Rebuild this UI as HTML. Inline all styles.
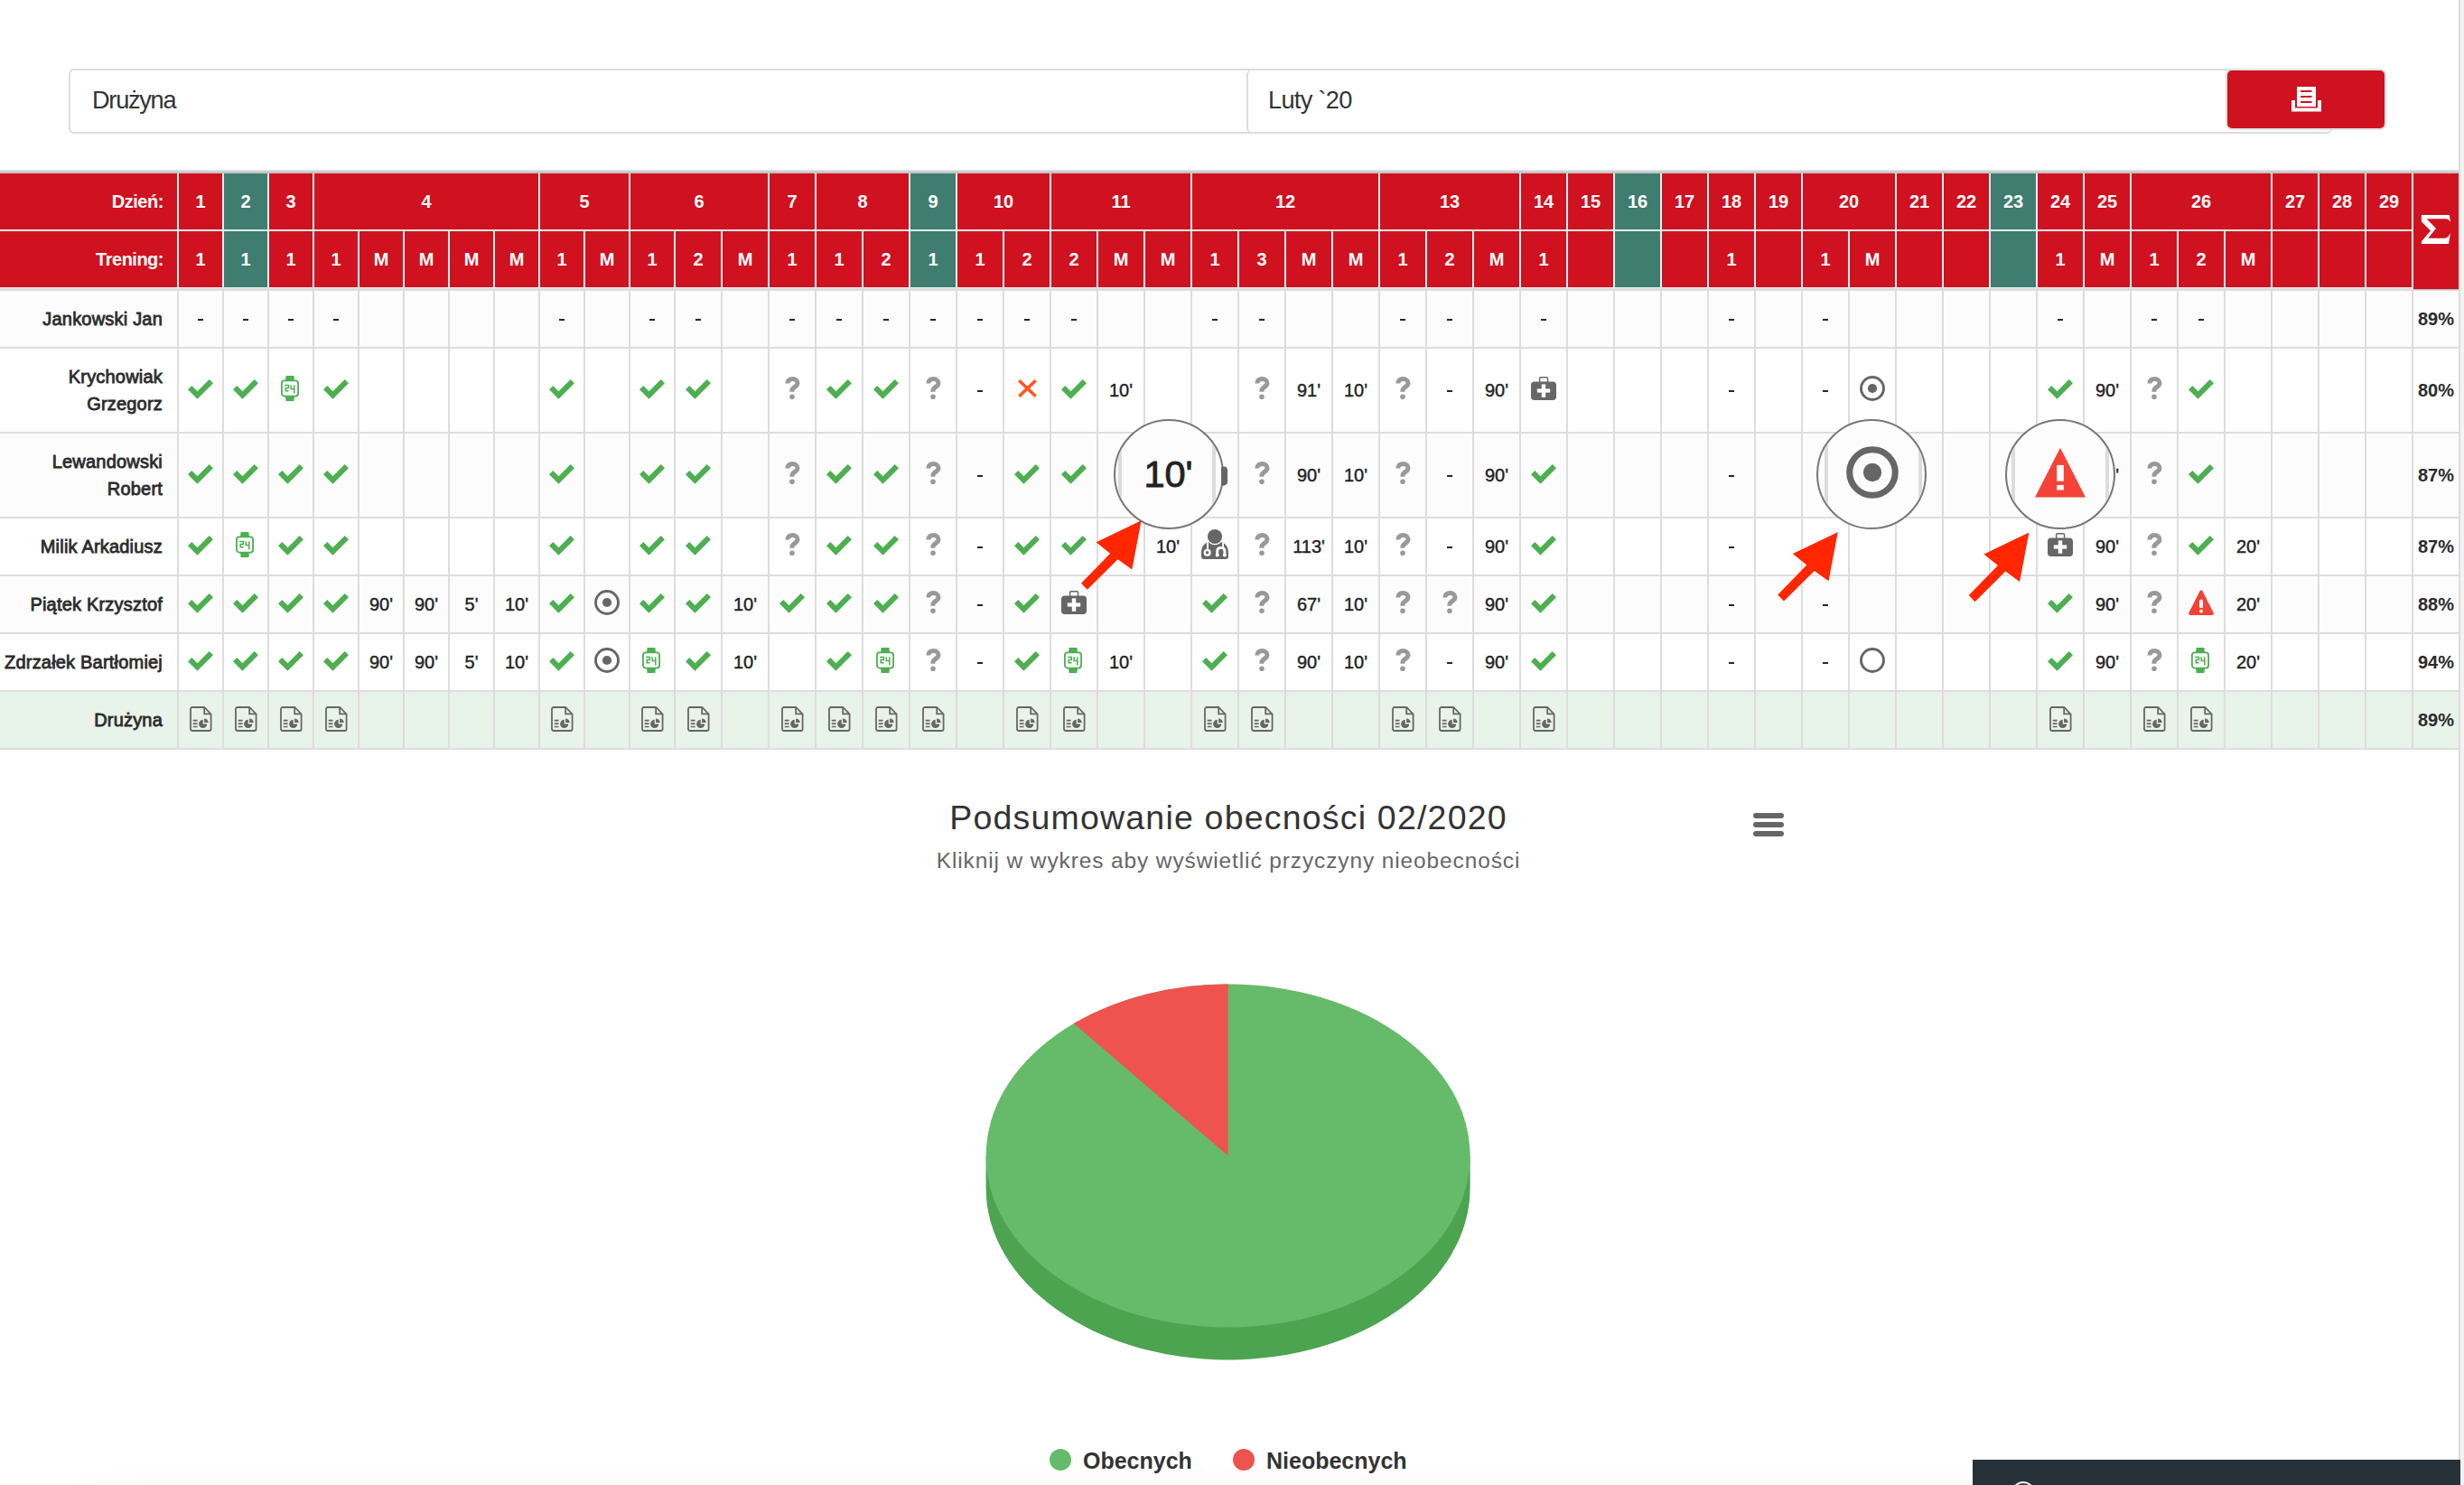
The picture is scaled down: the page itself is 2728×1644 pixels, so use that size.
<!DOCTYPE html><html><head><meta charset="utf-8"><title>Obecności</title><style>html,body{margin:0;padding:0;}body{width:2728px;height:1644px;position:relative;overflow:hidden;background:#fff;font-family:"Liberation Sans",sans-serif;}div,svg{box-sizing:border-box;}</style></head><body>
<div style="position:absolute;left:2722px;top:0px;width:2px;height:1644px;background:#dddddd;"></div>
<div style="position:absolute;left:2724px;top:0px;width:4px;height:1644px;background:#f3f3f3;"></div>
<div style="position:absolute;left:76px;top:76px;width:2506px;height:72px;border:2px solid #dcdcdc;border-radius:6px;background:#fff"></div>
<div style="position:absolute;left:1380px;top:77px;width:1200px;height:70px;border-left:2px solid #dcdcdc;border-radius:6px 0 0 6px"></div>
<div style="position:absolute;left:102px;top:93px;font-size:27.2px;line-height:36px;letter-spacing:-1.28px;color:#333;">Drużyna</div>
<div style="position:absolute;left:1404px;top:93px;font-size:27.2px;line-height:36px;letter-spacing:-0.7px;color:#333;">Luty `20</div>
<div style="position:absolute;left:2464px;top:76px;width:178px;height:68px;border:2px solid #dde3e3;border-radius:7px;background:#d0111f"></div>
<svg style="position:absolute;left:2536px;top:95px" width="36" height="30" viewBox="0 0 36 30"><rect x="7" y="1" width="21" height="22" fill="#fff"/><rect x="11" y="5" width="12.5" height="2" fill="#d0111f"/><rect x="11" y="11" width="12.5" height="2" fill="#d0111f"/><rect x="11" y="17" width="12.5" height="2" fill="#d0111f"/><path d="M1,16 H5 V24.6 H30 V16 H34 V28.6 H1 Z" fill="#fff"/></svg>
<div style="position:absolute;left:0px;top:188px;width:2722px;height:2px;background:#dcdcdc;"></div>
<div style="position:absolute;left:0px;top:190px;width:2722px;height:1px;background:#bdbdbd;"></div>
<div style="position:absolute;left:0px;top:191px;width:2722px;height:1px;background:#c3cccb;"></div>
<div style="position:absolute;left:0px;top:192px;width:2722px;height:126px;background:#d0111f;"></div>
<div style="position:absolute;left:0px;top:318px;width:2722px;height:1px;background:#dff3f1;"></div>
<div style="position:absolute;left:0px;top:319px;width:2722px;height:3px;background:#dddddd;"></div>
<div style="position:absolute;left:1788px;top:192px;width:50px;height:126px;background:#3f7d71;"></div>
<div style="position:absolute;left:1008px;top:192px;width:50px;height:126px;background:#3f7d71;"></div>
<div style="position:absolute;left:248px;top:192px;width:48px;height:126px;background:#3f7d71;"></div>
<div style="position:absolute;left:2204px;top:192px;width:50px;height:126px;background:#3f7d71;"></div>
<div style="position:absolute;left:0px;top:254px;width:2671px;height:2px;background:#dff3f1;"></div>
<div style="position:absolute;left:196px;top:192px;width:2px;height:126px;background:#dff3f1;"></div>
<div style="position:absolute;left:246px;top:192px;width:2px;height:126px;background:#dff3f1;"></div>
<div style="position:absolute;left:296px;top:192px;width:2px;height:126px;background:#dff3f1;"></div>
<div style="position:absolute;left:346px;top:192px;width:2px;height:126px;background:#dff3f1;"></div>
<div style="position:absolute;left:396px;top:256px;width:2px;height:62px;background:#dff3f1;"></div>
<div style="position:absolute;left:446px;top:256px;width:2px;height:62px;background:#dff3f1;"></div>
<div style="position:absolute;left:496px;top:256px;width:2px;height:62px;background:#dff3f1;"></div>
<div style="position:absolute;left:546px;top:256px;width:2px;height:62px;background:#dff3f1;"></div>
<div style="position:absolute;left:596px;top:192px;width:2px;height:126px;background:#dff3f1;"></div>
<div style="position:absolute;left:646px;top:256px;width:2px;height:62px;background:#dff3f1;"></div>
<div style="position:absolute;left:696px;top:192px;width:2px;height:126px;background:#dff3f1;"></div>
<div style="position:absolute;left:746px;top:256px;width:2px;height:62px;background:#dff3f1;"></div>
<div style="position:absolute;left:798px;top:256px;width:2px;height:62px;background:#dff3f1;"></div>
<div style="position:absolute;left:850px;top:192px;width:2px;height:126px;background:#dff3f1;"></div>
<div style="position:absolute;left:902px;top:192px;width:2px;height:126px;background:#dff3f1;"></div>
<div style="position:absolute;left:954px;top:256px;width:2px;height:62px;background:#dff3f1;"></div>
<div style="position:absolute;left:1006px;top:192px;width:2px;height:126px;background:#dff3f1;"></div>
<div style="position:absolute;left:1058px;top:192px;width:2px;height:126px;background:#dff3f1;"></div>
<div style="position:absolute;left:1110px;top:256px;width:2px;height:62px;background:#dff3f1;"></div>
<div style="position:absolute;left:1162px;top:192px;width:2px;height:126px;background:#dff3f1;"></div>
<div style="position:absolute;left:1214px;top:256px;width:2px;height:62px;background:#dff3f1;"></div>
<div style="position:absolute;left:1266px;top:256px;width:2px;height:62px;background:#dff3f1;"></div>
<div style="position:absolute;left:1318px;top:192px;width:2px;height:126px;background:#dff3f1;"></div>
<div style="position:absolute;left:1370px;top:256px;width:2px;height:62px;background:#dff3f1;"></div>
<div style="position:absolute;left:1422px;top:256px;width:2px;height:62px;background:#dff3f1;"></div>
<div style="position:absolute;left:1474px;top:256px;width:2px;height:62px;background:#dff3f1;"></div>
<div style="position:absolute;left:1526px;top:192px;width:2px;height:126px;background:#dff3f1;"></div>
<div style="position:absolute;left:1578px;top:256px;width:2px;height:62px;background:#dff3f1;"></div>
<div style="position:absolute;left:1630px;top:256px;width:2px;height:62px;background:#dff3f1;"></div>
<div style="position:absolute;left:1682px;top:192px;width:2px;height:126px;background:#dff3f1;"></div>
<div style="position:absolute;left:1734px;top:192px;width:2px;height:126px;background:#dff3f1;"></div>
<div style="position:absolute;left:1786px;top:192px;width:2px;height:126px;background:#dff3f1;"></div>
<div style="position:absolute;left:1838px;top:192px;width:2px;height:126px;background:#dff3f1;"></div>
<div style="position:absolute;left:1890px;top:192px;width:2px;height:126px;background:#dff3f1;"></div>
<div style="position:absolute;left:1942px;top:192px;width:2px;height:126px;background:#dff3f1;"></div>
<div style="position:absolute;left:1994px;top:192px;width:2px;height:126px;background:#dff3f1;"></div>
<div style="position:absolute;left:2046px;top:256px;width:2px;height:62px;background:#dff3f1;"></div>
<div style="position:absolute;left:2098px;top:192px;width:2px;height:126px;background:#dff3f1;"></div>
<div style="position:absolute;left:2150px;top:192px;width:2px;height:126px;background:#dff3f1;"></div>
<div style="position:absolute;left:2202px;top:192px;width:2px;height:126px;background:#dff3f1;"></div>
<div style="position:absolute;left:2254px;top:192px;width:2px;height:126px;background:#dff3f1;"></div>
<div style="position:absolute;left:2306px;top:192px;width:2px;height:126px;background:#dff3f1;"></div>
<div style="position:absolute;left:2358px;top:192px;width:2px;height:126px;background:#dff3f1;"></div>
<div style="position:absolute;left:2410px;top:256px;width:2px;height:62px;background:#dff3f1;"></div>
<div style="position:absolute;left:2462px;top:256px;width:2px;height:62px;background:#dff3f1;"></div>
<div style="position:absolute;left:2514px;top:192px;width:2px;height:126px;background:#dff3f1;"></div>
<div style="position:absolute;left:2566px;top:192px;width:2px;height:126px;background:#dff3f1;"></div>
<div style="position:absolute;left:2618px;top:192px;width:2px;height:126px;background:#dff3f1;"></div>
<div style="position:absolute;left:2670px;top:192px;width:2px;height:126px;background:#dff3f1;"></div>
<div style="position:absolute;left:2672px;top:192px;width:50px;height:128px;background:#d0111f;"></div>
<div style="position:absolute;left:2672px;top:320px;width:50px;height:1px;background:#bdbdbd;"></div>
<div style="position:absolute;color:#fff;font-weight:bold;font-size:20px;white-space:nowrap;text-align:center;left:0;top:192px;width:181px;height:62px;line-height:62px;text-align:right;letter-spacing:-0.45px;">Dzień:</div>
<div style="position:absolute;color:#fff;font-weight:bold;font-size:20px;white-space:nowrap;text-align:center;left:0;top:256px;width:181px;height:62px;line-height:62px;text-align:right;letter-spacing:-0.5px;">Trening:</div>
<div style="position:absolute;color:#fff;font-weight:bold;font-size:20px;white-space:nowrap;text-align:center;left:197px;top:192px;width:50px;height:62px;line-height:62px;">1</div>
<div style="position:absolute;color:#fff;font-weight:bold;font-size:20px;white-space:nowrap;text-align:center;left:247px;top:192px;width:50px;height:62px;line-height:62px;">2</div>
<div style="position:absolute;color:#fff;font-weight:bold;font-size:20px;white-space:nowrap;text-align:center;left:297px;top:192px;width:50px;height:62px;line-height:62px;">3</div>
<div style="position:absolute;color:#fff;font-weight:bold;font-size:20px;white-space:nowrap;text-align:center;left:347px;top:192px;width:250px;height:62px;line-height:62px;">4</div>
<div style="position:absolute;color:#fff;font-weight:bold;font-size:20px;white-space:nowrap;text-align:center;left:597px;top:192px;width:100px;height:62px;line-height:62px;">5</div>
<div style="position:absolute;color:#fff;font-weight:bold;font-size:20px;white-space:nowrap;text-align:center;left:697px;top:192px;width:154px;height:62px;line-height:62px;">6</div>
<div style="position:absolute;color:#fff;font-weight:bold;font-size:20px;white-space:nowrap;text-align:center;left:851px;top:192px;width:52px;height:62px;line-height:62px;">7</div>
<div style="position:absolute;color:#fff;font-weight:bold;font-size:20px;white-space:nowrap;text-align:center;left:903px;top:192px;width:104px;height:62px;line-height:62px;">8</div>
<div style="position:absolute;color:#fff;font-weight:bold;font-size:20px;white-space:nowrap;text-align:center;left:1007px;top:192px;width:52px;height:62px;line-height:62px;">9</div>
<div style="position:absolute;color:#fff;font-weight:bold;font-size:20px;white-space:nowrap;text-align:center;left:1059px;top:192px;width:104px;height:62px;line-height:62px;">10</div>
<div style="position:absolute;color:#fff;font-weight:bold;font-size:20px;white-space:nowrap;text-align:center;left:1163px;top:192px;width:156px;height:62px;line-height:62px;">11</div>
<div style="position:absolute;color:#fff;font-weight:bold;font-size:20px;white-space:nowrap;text-align:center;left:1319px;top:192px;width:208px;height:62px;line-height:62px;">12</div>
<div style="position:absolute;color:#fff;font-weight:bold;font-size:20px;white-space:nowrap;text-align:center;left:1527px;top:192px;width:156px;height:62px;line-height:62px;">13</div>
<div style="position:absolute;color:#fff;font-weight:bold;font-size:20px;white-space:nowrap;text-align:center;left:1683px;top:192px;width:52px;height:62px;line-height:62px;">14</div>
<div style="position:absolute;color:#fff;font-weight:bold;font-size:20px;white-space:nowrap;text-align:center;left:1735px;top:192px;width:52px;height:62px;line-height:62px;">15</div>
<div style="position:absolute;color:#fff;font-weight:bold;font-size:20px;white-space:nowrap;text-align:center;left:1787px;top:192px;width:52px;height:62px;line-height:62px;">16</div>
<div style="position:absolute;color:#fff;font-weight:bold;font-size:20px;white-space:nowrap;text-align:center;left:1839px;top:192px;width:52px;height:62px;line-height:62px;">17</div>
<div style="position:absolute;color:#fff;font-weight:bold;font-size:20px;white-space:nowrap;text-align:center;left:1891px;top:192px;width:52px;height:62px;line-height:62px;">18</div>
<div style="position:absolute;color:#fff;font-weight:bold;font-size:20px;white-space:nowrap;text-align:center;left:1943px;top:192px;width:52px;height:62px;line-height:62px;">19</div>
<div style="position:absolute;color:#fff;font-weight:bold;font-size:20px;white-space:nowrap;text-align:center;left:1995px;top:192px;width:104px;height:62px;line-height:62px;">20</div>
<div style="position:absolute;color:#fff;font-weight:bold;font-size:20px;white-space:nowrap;text-align:center;left:2099px;top:192px;width:52px;height:62px;line-height:62px;">21</div>
<div style="position:absolute;color:#fff;font-weight:bold;font-size:20px;white-space:nowrap;text-align:center;left:2151px;top:192px;width:52px;height:62px;line-height:62px;">22</div>
<div style="position:absolute;color:#fff;font-weight:bold;font-size:20px;white-space:nowrap;text-align:center;left:2203px;top:192px;width:52px;height:62px;line-height:62px;">23</div>
<div style="position:absolute;color:#fff;font-weight:bold;font-size:20px;white-space:nowrap;text-align:center;left:2255px;top:192px;width:52px;height:62px;line-height:62px;">24</div>
<div style="position:absolute;color:#fff;font-weight:bold;font-size:20px;white-space:nowrap;text-align:center;left:2307px;top:192px;width:52px;height:62px;line-height:62px;">25</div>
<div style="position:absolute;color:#fff;font-weight:bold;font-size:20px;white-space:nowrap;text-align:center;left:2359px;top:192px;width:156px;height:62px;line-height:62px;">26</div>
<div style="position:absolute;color:#fff;font-weight:bold;font-size:20px;white-space:nowrap;text-align:center;left:2515px;top:192px;width:52px;height:62px;line-height:62px;">27</div>
<div style="position:absolute;color:#fff;font-weight:bold;font-size:20px;white-space:nowrap;text-align:center;left:2567px;top:192px;width:52px;height:62px;line-height:62px;">28</div>
<div style="position:absolute;color:#fff;font-weight:bold;font-size:20px;white-space:nowrap;text-align:center;left:2619px;top:192px;width:52px;height:62px;line-height:62px;">29</div>
<div style="position:absolute;color:#fff;font-weight:bold;font-size:20px;white-space:nowrap;text-align:center;left:197px;top:256px;width:50px;height:62px;line-height:62px;">1</div>
<div style="position:absolute;color:#fff;font-weight:bold;font-size:20px;white-space:nowrap;text-align:center;left:247px;top:256px;width:50px;height:62px;line-height:62px;">1</div>
<div style="position:absolute;color:#fff;font-weight:bold;font-size:20px;white-space:nowrap;text-align:center;left:297px;top:256px;width:50px;height:62px;line-height:62px;">1</div>
<div style="position:absolute;color:#fff;font-weight:bold;font-size:20px;white-space:nowrap;text-align:center;left:347px;top:256px;width:50px;height:62px;line-height:62px;">1</div>
<div style="position:absolute;color:#fff;font-weight:bold;font-size:20px;white-space:nowrap;text-align:center;left:397px;top:256px;width:50px;height:62px;line-height:62px;">M</div>
<div style="position:absolute;color:#fff;font-weight:bold;font-size:20px;white-space:nowrap;text-align:center;left:447px;top:256px;width:50px;height:62px;line-height:62px;">M</div>
<div style="position:absolute;color:#fff;font-weight:bold;font-size:20px;white-space:nowrap;text-align:center;left:497px;top:256px;width:50px;height:62px;line-height:62px;">M</div>
<div style="position:absolute;color:#fff;font-weight:bold;font-size:20px;white-space:nowrap;text-align:center;left:547px;top:256px;width:50px;height:62px;line-height:62px;">M</div>
<div style="position:absolute;color:#fff;font-weight:bold;font-size:20px;white-space:nowrap;text-align:center;left:597px;top:256px;width:50px;height:62px;line-height:62px;">1</div>
<div style="position:absolute;color:#fff;font-weight:bold;font-size:20px;white-space:nowrap;text-align:center;left:647px;top:256px;width:50px;height:62px;line-height:62px;">M</div>
<div style="position:absolute;color:#fff;font-weight:bold;font-size:20px;white-space:nowrap;text-align:center;left:697px;top:256px;width:50px;height:62px;line-height:62px;">1</div>
<div style="position:absolute;color:#fff;font-weight:bold;font-size:20px;white-space:nowrap;text-align:center;left:747px;top:256px;width:52px;height:62px;line-height:62px;">2</div>
<div style="position:absolute;color:#fff;font-weight:bold;font-size:20px;white-space:nowrap;text-align:center;left:799px;top:256px;width:52px;height:62px;line-height:62px;">M</div>
<div style="position:absolute;color:#fff;font-weight:bold;font-size:20px;white-space:nowrap;text-align:center;left:851px;top:256px;width:52px;height:62px;line-height:62px;">1</div>
<div style="position:absolute;color:#fff;font-weight:bold;font-size:20px;white-space:nowrap;text-align:center;left:903px;top:256px;width:52px;height:62px;line-height:62px;">1</div>
<div style="position:absolute;color:#fff;font-weight:bold;font-size:20px;white-space:nowrap;text-align:center;left:955px;top:256px;width:52px;height:62px;line-height:62px;">2</div>
<div style="position:absolute;color:#fff;font-weight:bold;font-size:20px;white-space:nowrap;text-align:center;left:1007px;top:256px;width:52px;height:62px;line-height:62px;">1</div>
<div style="position:absolute;color:#fff;font-weight:bold;font-size:20px;white-space:nowrap;text-align:center;left:1059px;top:256px;width:52px;height:62px;line-height:62px;">1</div>
<div style="position:absolute;color:#fff;font-weight:bold;font-size:20px;white-space:nowrap;text-align:center;left:1111px;top:256px;width:52px;height:62px;line-height:62px;">2</div>
<div style="position:absolute;color:#fff;font-weight:bold;font-size:20px;white-space:nowrap;text-align:center;left:1163px;top:256px;width:52px;height:62px;line-height:62px;">2</div>
<div style="position:absolute;color:#fff;font-weight:bold;font-size:20px;white-space:nowrap;text-align:center;left:1215px;top:256px;width:52px;height:62px;line-height:62px;">M</div>
<div style="position:absolute;color:#fff;font-weight:bold;font-size:20px;white-space:nowrap;text-align:center;left:1267px;top:256px;width:52px;height:62px;line-height:62px;">M</div>
<div style="position:absolute;color:#fff;font-weight:bold;font-size:20px;white-space:nowrap;text-align:center;left:1319px;top:256px;width:52px;height:62px;line-height:62px;">1</div>
<div style="position:absolute;color:#fff;font-weight:bold;font-size:20px;white-space:nowrap;text-align:center;left:1371px;top:256px;width:52px;height:62px;line-height:62px;">3</div>
<div style="position:absolute;color:#fff;font-weight:bold;font-size:20px;white-space:nowrap;text-align:center;left:1423px;top:256px;width:52px;height:62px;line-height:62px;">M</div>
<div style="position:absolute;color:#fff;font-weight:bold;font-size:20px;white-space:nowrap;text-align:center;left:1475px;top:256px;width:52px;height:62px;line-height:62px;">M</div>
<div style="position:absolute;color:#fff;font-weight:bold;font-size:20px;white-space:nowrap;text-align:center;left:1527px;top:256px;width:52px;height:62px;line-height:62px;">1</div>
<div style="position:absolute;color:#fff;font-weight:bold;font-size:20px;white-space:nowrap;text-align:center;left:1579px;top:256px;width:52px;height:62px;line-height:62px;">2</div>
<div style="position:absolute;color:#fff;font-weight:bold;font-size:20px;white-space:nowrap;text-align:center;left:1631px;top:256px;width:52px;height:62px;line-height:62px;">M</div>
<div style="position:absolute;color:#fff;font-weight:bold;font-size:20px;white-space:nowrap;text-align:center;left:1683px;top:256px;width:52px;height:62px;line-height:62px;">1</div>
<div style="position:absolute;color:#fff;font-weight:bold;font-size:20px;white-space:nowrap;text-align:center;left:1891px;top:256px;width:52px;height:62px;line-height:62px;">1</div>
<div style="position:absolute;color:#fff;font-weight:bold;font-size:20px;white-space:nowrap;text-align:center;left:1995px;top:256px;width:52px;height:62px;line-height:62px;">1</div>
<div style="position:absolute;color:#fff;font-weight:bold;font-size:20px;white-space:nowrap;text-align:center;left:2047px;top:256px;width:52px;height:62px;line-height:62px;">M</div>
<div style="position:absolute;color:#fff;font-weight:bold;font-size:20px;white-space:nowrap;text-align:center;left:2255px;top:256px;width:52px;height:62px;line-height:62px;">1</div>
<div style="position:absolute;color:#fff;font-weight:bold;font-size:20px;white-space:nowrap;text-align:center;left:2307px;top:256px;width:52px;height:62px;line-height:62px;">M</div>
<div style="position:absolute;color:#fff;font-weight:bold;font-size:20px;white-space:nowrap;text-align:center;left:2359px;top:256px;width:52px;height:62px;line-height:62px;">1</div>
<div style="position:absolute;color:#fff;font-weight:bold;font-size:20px;white-space:nowrap;text-align:center;left:2411px;top:256px;width:52px;height:62px;line-height:62px;">2</div>
<div style="position:absolute;color:#fff;font-weight:bold;font-size:20px;white-space:nowrap;text-align:center;left:2463px;top:256px;width:52px;height:62px;line-height:62px;">M</div>
<svg style="position:absolute;left:2672px;top:225px" width="50" height="60" viewBox="0 0 50 60"><path d="M8.9,12.9 L39.8,12.9 L41,21 C39.5,18.2 38,17.2 35.1,17.2 L14.7,17.2 L25,27.9 L16.2,38.8 L33.5,38.8 C37.5,38.8 39.5,36 41,32.7 L39,45 L8.9,45 L8.9,42.2 L19,30.5 L8.9,20.2 Z" fill="#fff"/></svg>
<div style="position:absolute;left:0px;top:322px;width:2722px;height:62px;background:#fcfcfc;"></div>
<div style="position:absolute;left:0px;top:384px;width:2722px;height:2px;background:#dddddd;"></div>
<div style="position:absolute;left:0px;top:386px;width:2722px;height:92px;background:#ffffff;"></div>
<div style="position:absolute;left:0px;top:478px;width:2722px;height:2px;background:#dddddd;"></div>
<div style="position:absolute;left:0px;top:480px;width:2722px;height:92px;background:#fcfcfc;"></div>
<div style="position:absolute;left:0px;top:572px;width:2722px;height:2px;background:#dddddd;"></div>
<div style="position:absolute;left:0px;top:574px;width:2722px;height:62px;background:#ffffff;"></div>
<div style="position:absolute;left:0px;top:636px;width:2722px;height:2px;background:#dddddd;"></div>
<div style="position:absolute;left:0px;top:638px;width:2722px;height:62px;background:#fcfcfc;"></div>
<div style="position:absolute;left:0px;top:700px;width:2722px;height:2px;background:#dddddd;"></div>
<div style="position:absolute;left:0px;top:702px;width:2722px;height:62px;background:#ffffff;"></div>
<div style="position:absolute;left:0px;top:764px;width:2722px;height:2px;background:#dddddd;"></div>
<div style="position:absolute;left:0px;top:766px;width:2722px;height:62px;background:#e8f3e9;"></div>
<div style="position:absolute;left:0px;top:828px;width:2722px;height:2px;background:#dddddd;"></div>
<div style="position:absolute;left:0;top:322px;width:180px;height:62px;display:flex;align-items:center;justify-content:flex-end;"><div style="text-align:right;font-size:20px;line-height:30px;font-weight:normal;-webkit-text-stroke:0.8px #2b2b2b;letter-spacing:0.2px;color:#2b2b2b;white-space:nowrap">Jankowski Jan</div></div>
<div style="position:absolute;left:219.40px;top:352.80px;width:5.2px;height:2px;background:#262626"></div>
<div style="position:absolute;left:269.40px;top:352.80px;width:5.2px;height:2px;background:#262626"></div>
<div style="position:absolute;left:319.40px;top:352.80px;width:5.2px;height:2px;background:#262626"></div>
<div style="position:absolute;left:369.40px;top:352.80px;width:5.2px;height:2px;background:#262626"></div>




<div style="position:absolute;left:619.40px;top:352.80px;width:5.2px;height:2px;background:#262626"></div>

<div style="position:absolute;left:719.40px;top:352.80px;width:5.2px;height:2px;background:#262626"></div>
<div style="position:absolute;left:770.40px;top:352.80px;width:5.2px;height:2px;background:#262626"></div>

<div style="position:absolute;left:874.40px;top:352.80px;width:5.2px;height:2px;background:#262626"></div>
<div style="position:absolute;left:926.40px;top:352.80px;width:5.2px;height:2px;background:#262626"></div>
<div style="position:absolute;left:978.40px;top:352.80px;width:5.2px;height:2px;background:#262626"></div>
<div style="position:absolute;left:1030.40px;top:352.80px;width:5.2px;height:2px;background:#262626"></div>
<div style="position:absolute;left:1082.40px;top:352.80px;width:5.2px;height:2px;background:#262626"></div>
<div style="position:absolute;left:1134.40px;top:352.80px;width:5.2px;height:2px;background:#262626"></div>
<div style="position:absolute;left:1186.40px;top:352.80px;width:5.2px;height:2px;background:#262626"></div>


<div style="position:absolute;left:1342.40px;top:352.80px;width:5.2px;height:2px;background:#262626"></div>
<div style="position:absolute;left:1394.40px;top:352.80px;width:5.2px;height:2px;background:#262626"></div>


<div style="position:absolute;left:1550.40px;top:352.80px;width:5.2px;height:2px;background:#262626"></div>
<div style="position:absolute;left:1602.40px;top:352.80px;width:5.2px;height:2px;background:#262626"></div>

<div style="position:absolute;left:1706.40px;top:352.80px;width:5.2px;height:2px;background:#262626"></div>



<div style="position:absolute;left:1914.40px;top:352.80px;width:5.2px;height:2px;background:#262626"></div>

<div style="position:absolute;left:2018.40px;top:352.80px;width:5.2px;height:2px;background:#262626"></div>




<div style="position:absolute;left:2278.40px;top:352.80px;width:5.2px;height:2px;background:#262626"></div>

<div style="position:absolute;left:2382.40px;top:352.80px;width:5.2px;height:2px;background:#262626"></div>
<div style="position:absolute;left:2434.40px;top:352.80px;width:5.2px;height:2px;background:#262626"></div>




<div style="position:absolute;left:2657px;top:333.0px;width:80px;height:40px;line-height:40px;text-align:center;font-size:20px;color:#2b2b2b;font-weight:bold;white-space:nowrap">89%</div>
<div style="position:absolute;left:0;top:386px;width:180px;height:92px;display:flex;align-items:center;justify-content:flex-end;"><div style="text-align:right;font-size:20px;line-height:30px;font-weight:normal;-webkit-text-stroke:0.8px #2b2b2b;letter-spacing:0.2px;color:#2b2b2b;white-space:nowrap">Krychowiak<br>Grzegorz</div></div>
<svg style="position:absolute;left:208.00px;top:419.95px;" width="28.0" height="21.7" viewBox="0 0 28 21.7"><polygon points="0,11.3 4.3,6.9 10.5,13.3 23.7,0 28,4.2 10.5,21.7" fill="#4caf50"/></svg>
<svg style="position:absolute;left:258.00px;top:419.95px;" width="28.0" height="21.7" viewBox="0 0 28 21.7"><polygon points="0,11.3 4.3,6.9 10.5,13.3 23.7,0 28,4.2 10.5,21.7" fill="#4caf50"/></svg>
<svg style="position:absolute;left:311.20px;top:416.20px;" width="20.0" height="28.0" viewBox="0 0 20 28"><path d="M5.6,0 L14.4,0 L15,5.4 L5,5.4 Z" fill="#4caf50"/><path d="M5,22.6 L15,22.6 L14.4,28 L5.6,28 Z" fill="#4caf50"/><rect x="0.9" y="5.4" width="18.2" height="17.2" rx="3" ry="3" fill="none" stroke="#4caf50" stroke-width="1.8"/><path d="M4.1,10.6 H8.4 V13.4 H5.2 V16.8 H8.6" fill="none" stroke="#4caf50" stroke-width="1.5"/><path d="M11.2,10.3 V14.4 H15.4 M14.8,10.3 V19.4" fill="none" stroke="#4caf50" stroke-width="1.5"/></svg>
<svg style="position:absolute;left:358.00px;top:419.95px;" width="28.0" height="21.7" viewBox="0 0 28 21.7"><polygon points="0,11.3 4.3,6.9 10.5,13.3 23.7,0 28,4.2 10.5,21.7" fill="#4caf50"/></svg>




<svg style="position:absolute;left:608.00px;top:419.95px;" width="28.0" height="21.7" viewBox="0 0 28 21.7"><polygon points="0,11.3 4.3,6.9 10.5,13.3 23.7,0 28,4.2 10.5,21.7" fill="#4caf50"/></svg>

<svg style="position:absolute;left:708.00px;top:419.95px;" width="28.0" height="21.7" viewBox="0 0 28 21.7"><polygon points="0,11.3 4.3,6.9 10.5,13.3 23.7,0 28,4.2 10.5,21.7" fill="#4caf50"/></svg>
<svg style="position:absolute;left:759.00px;top:419.95px;" width="28.0" height="21.7" viewBox="0 0 28 21.7"><polygon points="0,11.3 4.3,6.9 10.5,13.3 23.7,0 28,4.2 10.5,21.7" fill="#4caf50"/></svg>

<svg style="position:absolute;left:868.50px;top:417.20px;" width="17.0" height="26.0" viewBox="0 0 17 26"><path d="M2.8,7.6 C2.8,4.2 5.4,2.5 8.4,2.5 C11.6,2.5 14,4.5 14,7.3 C14,11.2 7.9,11.6 7.9,15.5 L7.9,16.8" fill="none" stroke="#999999" stroke-width="5" stroke-linecap="butt" stroke-linejoin="round"/><circle cx="8" cy="22.3" r="2.8" fill="#999999"/></svg>
<svg style="position:absolute;left:915.00px;top:419.95px;" width="28.0" height="21.7" viewBox="0 0 28 21.7"><polygon points="0,11.3 4.3,6.9 10.5,13.3 23.7,0 28,4.2 10.5,21.7" fill="#4caf50"/></svg>
<svg style="position:absolute;left:967.00px;top:419.95px;" width="28.0" height="21.7" viewBox="0 0 28 21.7"><polygon points="0,11.3 4.3,6.9 10.5,13.3 23.7,0 28,4.2 10.5,21.7" fill="#4caf50"/></svg>
<svg style="position:absolute;left:1024.50px;top:417.20px;" width="17.0" height="26.0" viewBox="0 0 17 26"><path d="M2.8,7.6 C2.8,4.2 5.4,2.5 8.4,2.5 C11.6,2.5 14,4.5 14,7.3 C14,11.2 7.9,11.6 7.9,15.5 L7.9,16.8" fill="none" stroke="#999999" stroke-width="5" stroke-linecap="butt" stroke-linejoin="round"/><circle cx="8" cy="22.3" r="2.8" fill="#999999"/></svg>
<div style="position:absolute;left:1082.40px;top:431.80px;width:5.2px;height:2px;background:#262626"></div>
<svg style="position:absolute;left:1126.50px;top:420.20px;" width="21.0" height="20.0" viewBox="0 0 21 20"><path d="M1.3,1.2 L19.7,18.8 M19.7,1.2 L1.3,18.8" stroke="#ff5722" stroke-width="3.5" fill="none"/></svg>
<svg style="position:absolute;left:1175.00px;top:419.95px;" width="28.0" height="21.7" viewBox="0 0 28 21.7"><polygon points="0,11.3 4.3,6.9 10.5,13.3 23.7,0 28,4.2 10.5,21.7" fill="#4caf50"/></svg>
<div style="position:absolute;left:1201.0px;top:412.0px;width:80px;height:40px;line-height:40px;text-align:center;font-size:20px;color:#222;font-weight:500;-webkit-text-stroke:0.4px #222;white-space:nowrap">10'</div>


<svg style="position:absolute;left:1388.50px;top:417.20px;" width="17.0" height="26.0" viewBox="0 0 17 26"><path d="M2.8,7.6 C2.8,4.2 5.4,2.5 8.4,2.5 C11.6,2.5 14,4.5 14,7.3 C14,11.2 7.9,11.6 7.9,15.5 L7.9,16.8" fill="none" stroke="#999999" stroke-width="5" stroke-linecap="butt" stroke-linejoin="round"/><circle cx="8" cy="22.3" r="2.8" fill="#999999"/></svg>
<div style="position:absolute;left:1409.0px;top:412.0px;width:80px;height:40px;line-height:40px;text-align:center;font-size:20px;color:#222;font-weight:500;-webkit-text-stroke:0.4px #222;white-space:nowrap">91'</div>
<div style="position:absolute;left:1461.0px;top:412.0px;width:80px;height:40px;line-height:40px;text-align:center;font-size:20px;color:#222;font-weight:500;-webkit-text-stroke:0.4px #222;white-space:nowrap">10'</div>
<svg style="position:absolute;left:1544.50px;top:417.20px;" width="17.0" height="26.0" viewBox="0 0 17 26"><path d="M2.8,7.6 C2.8,4.2 5.4,2.5 8.4,2.5 C11.6,2.5 14,4.5 14,7.3 C14,11.2 7.9,11.6 7.9,15.5 L7.9,16.8" fill="none" stroke="#999999" stroke-width="5" stroke-linecap="butt" stroke-linejoin="round"/><circle cx="8" cy="22.3" r="2.8" fill="#999999"/></svg>
<div style="position:absolute;left:1602.40px;top:431.80px;width:5.2px;height:2px;background:#262626"></div>
<div style="position:absolute;left:1617.0px;top:412.0px;width:80px;height:40px;line-height:40px;text-align:center;font-size:20px;color:#222;font-weight:500;-webkit-text-stroke:0.4px #222;white-space:nowrap">90'</div>
<svg style="position:absolute;left:1695.00px;top:417.20px;" width="28.0" height="26.0" viewBox="0 0 28 26"><rect x="9.6" y="0.7" width="9" height="6" rx="1.2" fill="none" stroke="#666666" stroke-width="1.4"/><rect x="0" y="5.4" width="28" height="20.6" rx="3.8" fill="#666666"/><rect x="11.8" y="8.4" width="4.4" height="14.4" fill="#fff"/><rect x="6.8" y="13.4" width="14.4" height="4.2" fill="#fff"/></svg>



<div style="position:absolute;left:1914.40px;top:431.80px;width:5.2px;height:2px;background:#262626"></div>

<div style="position:absolute;left:2018.40px;top:431.80px;width:5.2px;height:2px;background:#262626"></div>
<svg style="position:absolute;left:2059.00px;top:416.20px;" width="28.0" height="28.0" viewBox="0 0 28 28"><circle cx="14" cy="14" r="12.5" fill="none" stroke="#666666" stroke-width="2.9"/><circle cx="14" cy="14" r="5.1" fill="#666666"/></svg>



<svg style="position:absolute;left:2267.00px;top:419.95px;" width="28.0" height="21.7" viewBox="0 0 28 21.7"><polygon points="0,11.3 4.3,6.9 10.5,13.3 23.7,0 28,4.2 10.5,21.7" fill="#4caf50"/></svg>
<div style="position:absolute;left:2293.0px;top:412.0px;width:80px;height:40px;line-height:40px;text-align:center;font-size:20px;color:#222;font-weight:500;-webkit-text-stroke:0.4px #222;white-space:nowrap">90'</div>
<svg style="position:absolute;left:2376.50px;top:417.20px;" width="17.0" height="26.0" viewBox="0 0 17 26"><path d="M2.8,7.6 C2.8,4.2 5.4,2.5 8.4,2.5 C11.6,2.5 14,4.5 14,7.3 C14,11.2 7.9,11.6 7.9,15.5 L7.9,16.8" fill="none" stroke="#999999" stroke-width="5" stroke-linecap="butt" stroke-linejoin="round"/><circle cx="8" cy="22.3" r="2.8" fill="#999999"/></svg>
<svg style="position:absolute;left:2423.00px;top:419.95px;" width="28.0" height="21.7" viewBox="0 0 28 21.7"><polygon points="0,11.3 4.3,6.9 10.5,13.3 23.7,0 28,4.2 10.5,21.7" fill="#4caf50"/></svg>




<div style="position:absolute;left:2657px;top:412.0px;width:80px;height:40px;line-height:40px;text-align:center;font-size:20px;color:#2b2b2b;font-weight:bold;white-space:nowrap">80%</div>
<div style="position:absolute;left:0;top:480px;width:180px;height:92px;display:flex;align-items:center;justify-content:flex-end;"><div style="text-align:right;font-size:20px;line-height:30px;font-weight:normal;-webkit-text-stroke:0.8px #2b2b2b;letter-spacing:0.2px;color:#2b2b2b;white-space:nowrap">Lewandowski<br>Robert</div></div>
<svg style="position:absolute;left:208.00px;top:513.95px;" width="28.0" height="21.7" viewBox="0 0 28 21.7"><polygon points="0,11.3 4.3,6.9 10.5,13.3 23.7,0 28,4.2 10.5,21.7" fill="#4caf50"/></svg>
<svg style="position:absolute;left:258.00px;top:513.95px;" width="28.0" height="21.7" viewBox="0 0 28 21.7"><polygon points="0,11.3 4.3,6.9 10.5,13.3 23.7,0 28,4.2 10.5,21.7" fill="#4caf50"/></svg>
<svg style="position:absolute;left:308.00px;top:513.95px;" width="28.0" height="21.7" viewBox="0 0 28 21.7"><polygon points="0,11.3 4.3,6.9 10.5,13.3 23.7,0 28,4.2 10.5,21.7" fill="#4caf50"/></svg>
<svg style="position:absolute;left:358.00px;top:513.95px;" width="28.0" height="21.7" viewBox="0 0 28 21.7"><polygon points="0,11.3 4.3,6.9 10.5,13.3 23.7,0 28,4.2 10.5,21.7" fill="#4caf50"/></svg>




<svg style="position:absolute;left:608.00px;top:513.95px;" width="28.0" height="21.7" viewBox="0 0 28 21.7"><polygon points="0,11.3 4.3,6.9 10.5,13.3 23.7,0 28,4.2 10.5,21.7" fill="#4caf50"/></svg>

<svg style="position:absolute;left:708.00px;top:513.95px;" width="28.0" height="21.7" viewBox="0 0 28 21.7"><polygon points="0,11.3 4.3,6.9 10.5,13.3 23.7,0 28,4.2 10.5,21.7" fill="#4caf50"/></svg>
<svg style="position:absolute;left:759.00px;top:513.95px;" width="28.0" height="21.7" viewBox="0 0 28 21.7"><polygon points="0,11.3 4.3,6.9 10.5,13.3 23.7,0 28,4.2 10.5,21.7" fill="#4caf50"/></svg>

<svg style="position:absolute;left:868.50px;top:511.20px;" width="17.0" height="26.0" viewBox="0 0 17 26"><path d="M2.8,7.6 C2.8,4.2 5.4,2.5 8.4,2.5 C11.6,2.5 14,4.5 14,7.3 C14,11.2 7.9,11.6 7.9,15.5 L7.9,16.8" fill="none" stroke="#999999" stroke-width="5" stroke-linecap="butt" stroke-linejoin="round"/><circle cx="8" cy="22.3" r="2.8" fill="#999999"/></svg>
<svg style="position:absolute;left:915.00px;top:513.95px;" width="28.0" height="21.7" viewBox="0 0 28 21.7"><polygon points="0,11.3 4.3,6.9 10.5,13.3 23.7,0 28,4.2 10.5,21.7" fill="#4caf50"/></svg>
<svg style="position:absolute;left:967.00px;top:513.95px;" width="28.0" height="21.7" viewBox="0 0 28 21.7"><polygon points="0,11.3 4.3,6.9 10.5,13.3 23.7,0 28,4.2 10.5,21.7" fill="#4caf50"/></svg>
<svg style="position:absolute;left:1024.50px;top:511.20px;" width="17.0" height="26.0" viewBox="0 0 17 26"><path d="M2.8,7.6 C2.8,4.2 5.4,2.5 8.4,2.5 C11.6,2.5 14,4.5 14,7.3 C14,11.2 7.9,11.6 7.9,15.5 L7.9,16.8" fill="none" stroke="#999999" stroke-width="5" stroke-linecap="butt" stroke-linejoin="round"/><circle cx="8" cy="22.3" r="2.8" fill="#999999"/></svg>
<div style="position:absolute;left:1082.40px;top:525.80px;width:5.2px;height:2px;background:#262626"></div>
<svg style="position:absolute;left:1123.00px;top:513.95px;" width="28.0" height="21.7" viewBox="0 0 28 21.7"><polygon points="0,11.3 4.3,6.9 10.5,13.3 23.7,0 28,4.2 10.5,21.7" fill="#4caf50"/></svg>
<svg style="position:absolute;left:1175.00px;top:513.95px;" width="28.0" height="21.7" viewBox="0 0 28 21.7"><polygon points="0,11.3 4.3,6.9 10.5,13.3 23.7,0 28,4.2 10.5,21.7" fill="#4caf50"/></svg>

<div style="position:absolute;left:1253.0px;top:506.0px;width:80px;height:40px;line-height:40px;text-align:center;font-size:20px;color:#222;font-weight:500;-webkit-text-stroke:0.4px #222;white-space:nowrap">10'</div>
<svg style="position:absolute;left:1331.00px;top:511.20px;" width="28.0" height="26.0" viewBox="0 0 28 26"><rect x="9.6" y="0.7" width="9" height="6" rx="1.2" fill="none" stroke="#666666" stroke-width="1.4"/><rect x="0" y="5.4" width="28" height="20.6" rx="3.8" fill="#666666"/><rect x="11.8" y="8.4" width="4.4" height="14.4" fill="#fff"/><rect x="6.8" y="13.4" width="14.4" height="4.2" fill="#fff"/></svg>
<svg style="position:absolute;left:1388.50px;top:511.20px;" width="17.0" height="26.0" viewBox="0 0 17 26"><path d="M2.8,7.6 C2.8,4.2 5.4,2.5 8.4,2.5 C11.6,2.5 14,4.5 14,7.3 C14,11.2 7.9,11.6 7.9,15.5 L7.9,16.8" fill="none" stroke="#999999" stroke-width="5" stroke-linecap="butt" stroke-linejoin="round"/><circle cx="8" cy="22.3" r="2.8" fill="#999999"/></svg>
<div style="position:absolute;left:1409.0px;top:506.0px;width:80px;height:40px;line-height:40px;text-align:center;font-size:20px;color:#222;font-weight:500;-webkit-text-stroke:0.4px #222;white-space:nowrap">90'</div>
<div style="position:absolute;left:1461.0px;top:506.0px;width:80px;height:40px;line-height:40px;text-align:center;font-size:20px;color:#222;font-weight:500;-webkit-text-stroke:0.4px #222;white-space:nowrap">10'</div>
<svg style="position:absolute;left:1544.50px;top:511.20px;" width="17.0" height="26.0" viewBox="0 0 17 26"><path d="M2.8,7.6 C2.8,4.2 5.4,2.5 8.4,2.5 C11.6,2.5 14,4.5 14,7.3 C14,11.2 7.9,11.6 7.9,15.5 L7.9,16.8" fill="none" stroke="#999999" stroke-width="5" stroke-linecap="butt" stroke-linejoin="round"/><circle cx="8" cy="22.3" r="2.8" fill="#999999"/></svg>
<div style="position:absolute;left:1602.40px;top:525.80px;width:5.2px;height:2px;background:#262626"></div>
<div style="position:absolute;left:1617.0px;top:506.0px;width:80px;height:40px;line-height:40px;text-align:center;font-size:20px;color:#222;font-weight:500;-webkit-text-stroke:0.4px #222;white-space:nowrap">90'</div>
<svg style="position:absolute;left:1695.00px;top:513.95px;" width="28.0" height="21.7" viewBox="0 0 28 21.7"><polygon points="0,11.3 4.3,6.9 10.5,13.3 23.7,0 28,4.2 10.5,21.7" fill="#4caf50"/></svg>



<div style="position:absolute;left:1914.40px;top:525.80px;width:5.2px;height:2px;background:#262626"></div>

<div style="position:absolute;left:2018.40px;top:525.80px;width:5.2px;height:2px;background:#262626"></div>
<svg style="position:absolute;left:2059.00px;top:510.20px;" width="28.0" height="28.0" viewBox="0 0 28 28"><circle cx="14" cy="14" r="12.5" fill="none" stroke="#666666" stroke-width="2.9"/><circle cx="14" cy="14" r="5.1" fill="#666666"/></svg>



<svg style="position:absolute;left:2267.00px;top:510.20px;" width="28.0" height="28.0" viewBox="0 0 28 28"><path d="M14,0.6 C14.8,0.6 15.3,1.1 15.7,1.8 L27.6,25.2 C28.2,26.6 27.4,28 25.9,28 L2.1,28 C0.6,28 -0.2,26.6 0.4,25.2 L12.3,1.8 C12.7,1.1 13.2,0.6 14,0.6 Z" fill="#f44336"/><rect x="12" y="10.6" width="4" height="9.6" rx="2" fill="#fff"/><circle cx="14" cy="23.6" r="1.9" fill="#fff"/></svg>
<div style="position:absolute;left:2293.0px;top:506.0px;width:80px;height:40px;line-height:40px;text-align:center;font-size:20px;color:#222;font-weight:500;-webkit-text-stroke:0.4px #222;white-space:nowrap">90'</div>
<svg style="position:absolute;left:2376.50px;top:511.20px;" width="17.0" height="26.0" viewBox="0 0 17 26"><path d="M2.8,7.6 C2.8,4.2 5.4,2.5 8.4,2.5 C11.6,2.5 14,4.5 14,7.3 C14,11.2 7.9,11.6 7.9,15.5 L7.9,16.8" fill="none" stroke="#999999" stroke-width="5" stroke-linecap="butt" stroke-linejoin="round"/><circle cx="8" cy="22.3" r="2.8" fill="#999999"/></svg>
<svg style="position:absolute;left:2423.00px;top:513.95px;" width="28.0" height="21.7" viewBox="0 0 28 21.7"><polygon points="0,11.3 4.3,6.9 10.5,13.3 23.7,0 28,4.2 10.5,21.7" fill="#4caf50"/></svg>




<div style="position:absolute;left:2657px;top:506.0px;width:80px;height:40px;line-height:40px;text-align:center;font-size:20px;color:#2b2b2b;font-weight:bold;white-space:nowrap">87%</div>
<div style="position:absolute;left:0;top:574px;width:180px;height:62px;display:flex;align-items:center;justify-content:flex-end;"><div style="text-align:right;font-size:20px;line-height:30px;font-weight:normal;-webkit-text-stroke:0.8px #2b2b2b;letter-spacing:0.2px;color:#2b2b2b;white-space:nowrap">Milik Arkadiusz</div></div>
<svg style="position:absolute;left:208.00px;top:592.95px;" width="28.0" height="21.7" viewBox="0 0 28 21.7"><polygon points="0,11.3 4.3,6.9 10.5,13.3 23.7,0 28,4.2 10.5,21.7" fill="#4caf50"/></svg>
<svg style="position:absolute;left:261.20px;top:589.20px;" width="20.0" height="28.0" viewBox="0 0 20 28"><path d="M5.6,0 L14.4,0 L15,5.4 L5,5.4 Z" fill="#4caf50"/><path d="M5,22.6 L15,22.6 L14.4,28 L5.6,28 Z" fill="#4caf50"/><rect x="0.9" y="5.4" width="18.2" height="17.2" rx="3" ry="3" fill="none" stroke="#4caf50" stroke-width="1.8"/><path d="M4.1,10.6 H8.4 V13.4 H5.2 V16.8 H8.6" fill="none" stroke="#4caf50" stroke-width="1.5"/><path d="M11.2,10.3 V14.4 H15.4 M14.8,10.3 V19.4" fill="none" stroke="#4caf50" stroke-width="1.5"/></svg>
<svg style="position:absolute;left:308.00px;top:592.95px;" width="28.0" height="21.7" viewBox="0 0 28 21.7"><polygon points="0,11.3 4.3,6.9 10.5,13.3 23.7,0 28,4.2 10.5,21.7" fill="#4caf50"/></svg>
<svg style="position:absolute;left:358.00px;top:592.95px;" width="28.0" height="21.7" viewBox="0 0 28 21.7"><polygon points="0,11.3 4.3,6.9 10.5,13.3 23.7,0 28,4.2 10.5,21.7" fill="#4caf50"/></svg>




<svg style="position:absolute;left:608.00px;top:592.95px;" width="28.0" height="21.7" viewBox="0 0 28 21.7"><polygon points="0,11.3 4.3,6.9 10.5,13.3 23.7,0 28,4.2 10.5,21.7" fill="#4caf50"/></svg>

<svg style="position:absolute;left:708.00px;top:592.95px;" width="28.0" height="21.7" viewBox="0 0 28 21.7"><polygon points="0,11.3 4.3,6.9 10.5,13.3 23.7,0 28,4.2 10.5,21.7" fill="#4caf50"/></svg>
<svg style="position:absolute;left:759.00px;top:592.95px;" width="28.0" height="21.7" viewBox="0 0 28 21.7"><polygon points="0,11.3 4.3,6.9 10.5,13.3 23.7,0 28,4.2 10.5,21.7" fill="#4caf50"/></svg>

<svg style="position:absolute;left:868.50px;top:590.20px;" width="17.0" height="26.0" viewBox="0 0 17 26"><path d="M2.8,7.6 C2.8,4.2 5.4,2.5 8.4,2.5 C11.6,2.5 14,4.5 14,7.3 C14,11.2 7.9,11.6 7.9,15.5 L7.9,16.8" fill="none" stroke="#999999" stroke-width="5" stroke-linecap="butt" stroke-linejoin="round"/><circle cx="8" cy="22.3" r="2.8" fill="#999999"/></svg>
<svg style="position:absolute;left:915.00px;top:592.95px;" width="28.0" height="21.7" viewBox="0 0 28 21.7"><polygon points="0,11.3 4.3,6.9 10.5,13.3 23.7,0 28,4.2 10.5,21.7" fill="#4caf50"/></svg>
<svg style="position:absolute;left:967.00px;top:592.95px;" width="28.0" height="21.7" viewBox="0 0 28 21.7"><polygon points="0,11.3 4.3,6.9 10.5,13.3 23.7,0 28,4.2 10.5,21.7" fill="#4caf50"/></svg>
<svg style="position:absolute;left:1024.50px;top:590.20px;" width="17.0" height="26.0" viewBox="0 0 17 26"><path d="M2.8,7.6 C2.8,4.2 5.4,2.5 8.4,2.5 C11.6,2.5 14,4.5 14,7.3 C14,11.2 7.9,11.6 7.9,15.5 L7.9,16.8" fill="none" stroke="#999999" stroke-width="5" stroke-linecap="butt" stroke-linejoin="round"/><circle cx="8" cy="22.3" r="2.8" fill="#999999"/></svg>
<div style="position:absolute;left:1082.40px;top:604.80px;width:5.2px;height:2px;background:#262626"></div>
<svg style="position:absolute;left:1123.00px;top:592.95px;" width="28.0" height="21.7" viewBox="0 0 28 21.7"><polygon points="0,11.3 4.3,6.9 10.5,13.3 23.7,0 28,4.2 10.5,21.7" fill="#4caf50"/></svg>
<svg style="position:absolute;left:1175.00px;top:592.95px;" width="28.0" height="21.7" viewBox="0 0 28 21.7"><polygon points="0,11.3 4.3,6.9 10.5,13.3 23.7,0 28,4.2 10.5,21.7" fill="#4caf50"/></svg>

<div style="position:absolute;left:1253.0px;top:585.0px;width:80px;height:40px;line-height:40px;text-align:center;font-size:20px;color:#222;font-weight:500;-webkit-text-stroke:0.4px #222;white-space:nowrap">10'</div>
<svg style="position:absolute;left:1330.00px;top:585.70px;" width="30.0" height="33.0" viewBox="0 0 30 33"><circle cx="15" cy="8.05" r="8.05" fill="#666666"/><path d="M8,14.1 A9.25,9.25 0 0 0 22,14.1 C27,15.5 30,20 30,26 L30,30 C30,31.7 28.7,33 27,33 L3,33 C1.3,33 0,31.7 0,30 L0,26 C0,20 3,15.5 8,14.1 Z" fill="#666666"/><path d="M7,14.4 L7,22.6" stroke="#fff" stroke-width="2" fill="none"/><circle cx="6.6" cy="25.8" r="2.9" fill="none" stroke="#fff" stroke-width="2.3"/><path d="M24.1,14.4 L24.1,20.6" stroke="#fff" stroke-width="1.9" fill="none"/><path d="M17.7,28.5 L17.7,24 C17.7,21.6 19.6,20.4 21.8,20.4 C24,20.4 25.9,21.6 25.9,24 L25.9,28.5" stroke="#fff" stroke-width="2.9" fill="none"/><circle cx="17.7" cy="28.6" r="2" fill="#fff"/><circle cx="25.9" cy="28.6" r="2" fill="#fff"/></svg>
<svg style="position:absolute;left:1388.50px;top:590.20px;" width="17.0" height="26.0" viewBox="0 0 17 26"><path d="M2.8,7.6 C2.8,4.2 5.4,2.5 8.4,2.5 C11.6,2.5 14,4.5 14,7.3 C14,11.2 7.9,11.6 7.9,15.5 L7.9,16.8" fill="none" stroke="#999999" stroke-width="5" stroke-linecap="butt" stroke-linejoin="round"/><circle cx="8" cy="22.3" r="2.8" fill="#999999"/></svg>
<div style="position:absolute;left:1409.0px;top:585.0px;width:80px;height:40px;line-height:40px;text-align:center;font-size:20px;color:#222;font-weight:500;-webkit-text-stroke:0.4px #222;white-space:nowrap">113'</div>
<div style="position:absolute;left:1461.0px;top:585.0px;width:80px;height:40px;line-height:40px;text-align:center;font-size:20px;color:#222;font-weight:500;-webkit-text-stroke:0.4px #222;white-space:nowrap">10'</div>
<svg style="position:absolute;left:1544.50px;top:590.20px;" width="17.0" height="26.0" viewBox="0 0 17 26"><path d="M2.8,7.6 C2.8,4.2 5.4,2.5 8.4,2.5 C11.6,2.5 14,4.5 14,7.3 C14,11.2 7.9,11.6 7.9,15.5 L7.9,16.8" fill="none" stroke="#999999" stroke-width="5" stroke-linecap="butt" stroke-linejoin="round"/><circle cx="8" cy="22.3" r="2.8" fill="#999999"/></svg>
<div style="position:absolute;left:1602.40px;top:604.80px;width:5.2px;height:2px;background:#262626"></div>
<div style="position:absolute;left:1617.0px;top:585.0px;width:80px;height:40px;line-height:40px;text-align:center;font-size:20px;color:#222;font-weight:500;-webkit-text-stroke:0.4px #222;white-space:nowrap">90'</div>
<svg style="position:absolute;left:1695.00px;top:592.95px;" width="28.0" height="21.7" viewBox="0 0 28 21.7"><polygon points="0,11.3 4.3,6.9 10.5,13.3 23.7,0 28,4.2 10.5,21.7" fill="#4caf50"/></svg>



<div style="position:absolute;left:1914.40px;top:604.80px;width:5.2px;height:2px;background:#262626"></div>






<svg style="position:absolute;left:2267.00px;top:590.20px;" width="28.0" height="26.0" viewBox="0 0 28 26"><rect x="9.6" y="0.7" width="9" height="6" rx="1.2" fill="none" stroke="#666666" stroke-width="1.4"/><rect x="0" y="5.4" width="28" height="20.6" rx="3.8" fill="#666666"/><rect x="11.8" y="8.4" width="4.4" height="14.4" fill="#fff"/><rect x="6.8" y="13.4" width="14.4" height="4.2" fill="#fff"/></svg>
<div style="position:absolute;left:2293.0px;top:585.0px;width:80px;height:40px;line-height:40px;text-align:center;font-size:20px;color:#222;font-weight:500;-webkit-text-stroke:0.4px #222;white-space:nowrap">90'</div>
<svg style="position:absolute;left:2376.50px;top:590.20px;" width="17.0" height="26.0" viewBox="0 0 17 26"><path d="M2.8,7.6 C2.8,4.2 5.4,2.5 8.4,2.5 C11.6,2.5 14,4.5 14,7.3 C14,11.2 7.9,11.6 7.9,15.5 L7.9,16.8" fill="none" stroke="#999999" stroke-width="5" stroke-linecap="butt" stroke-linejoin="round"/><circle cx="8" cy="22.3" r="2.8" fill="#999999"/></svg>
<svg style="position:absolute;left:2423.00px;top:592.95px;" width="28.0" height="21.7" viewBox="0 0 28 21.7"><polygon points="0,11.3 4.3,6.9 10.5,13.3 23.7,0 28,4.2 10.5,21.7" fill="#4caf50"/></svg>
<div style="position:absolute;left:2449.0px;top:585.0px;width:80px;height:40px;line-height:40px;text-align:center;font-size:20px;color:#222;font-weight:500;-webkit-text-stroke:0.4px #222;white-space:nowrap">20'</div>



<div style="position:absolute;left:2657px;top:585.0px;width:80px;height:40px;line-height:40px;text-align:center;font-size:20px;color:#2b2b2b;font-weight:bold;white-space:nowrap">87%</div>
<div style="position:absolute;left:0;top:638px;width:180px;height:62px;display:flex;align-items:center;justify-content:flex-end;"><div style="text-align:right;font-size:20px;line-height:30px;font-weight:normal;-webkit-text-stroke:0.8px #2b2b2b;letter-spacing:0.2px;color:#2b2b2b;white-space:nowrap">Piątek Krzysztof</div></div>
<svg style="position:absolute;left:208.00px;top:656.95px;" width="28.0" height="21.7" viewBox="0 0 28 21.7"><polygon points="0,11.3 4.3,6.9 10.5,13.3 23.7,0 28,4.2 10.5,21.7" fill="#4caf50"/></svg>
<svg style="position:absolute;left:258.00px;top:656.95px;" width="28.0" height="21.7" viewBox="0 0 28 21.7"><polygon points="0,11.3 4.3,6.9 10.5,13.3 23.7,0 28,4.2 10.5,21.7" fill="#4caf50"/></svg>
<svg style="position:absolute;left:308.00px;top:656.95px;" width="28.0" height="21.7" viewBox="0 0 28 21.7"><polygon points="0,11.3 4.3,6.9 10.5,13.3 23.7,0 28,4.2 10.5,21.7" fill="#4caf50"/></svg>
<svg style="position:absolute;left:358.00px;top:656.95px;" width="28.0" height="21.7" viewBox="0 0 28 21.7"><polygon points="0,11.3 4.3,6.9 10.5,13.3 23.7,0 28,4.2 10.5,21.7" fill="#4caf50"/></svg>
<div style="position:absolute;left:382.0px;top:649.0px;width:80px;height:40px;line-height:40px;text-align:center;font-size:20px;color:#222;font-weight:500;-webkit-text-stroke:0.4px #222;white-space:nowrap">90'</div>
<div style="position:absolute;left:432.0px;top:649.0px;width:80px;height:40px;line-height:40px;text-align:center;font-size:20px;color:#222;font-weight:500;-webkit-text-stroke:0.4px #222;white-space:nowrap">90'</div>
<div style="position:absolute;left:482.0px;top:649.0px;width:80px;height:40px;line-height:40px;text-align:center;font-size:20px;color:#222;font-weight:500;-webkit-text-stroke:0.4px #222;white-space:nowrap">5'</div>
<div style="position:absolute;left:532.0px;top:649.0px;width:80px;height:40px;line-height:40px;text-align:center;font-size:20px;color:#222;font-weight:500;-webkit-text-stroke:0.4px #222;white-space:nowrap">10'</div>
<svg style="position:absolute;left:608.00px;top:656.95px;" width="28.0" height="21.7" viewBox="0 0 28 21.7"><polygon points="0,11.3 4.3,6.9 10.5,13.3 23.7,0 28,4.2 10.5,21.7" fill="#4caf50"/></svg>
<svg style="position:absolute;left:658.00px;top:653.20px;" width="28.0" height="28.0" viewBox="0 0 28 28"><circle cx="14" cy="14" r="12.5" fill="none" stroke="#666666" stroke-width="2.9"/><circle cx="14" cy="14" r="5.1" fill="#666666"/></svg>
<svg style="position:absolute;left:708.00px;top:656.95px;" width="28.0" height="21.7" viewBox="0 0 28 21.7"><polygon points="0,11.3 4.3,6.9 10.5,13.3 23.7,0 28,4.2 10.5,21.7" fill="#4caf50"/></svg>
<svg style="position:absolute;left:759.00px;top:656.95px;" width="28.0" height="21.7" viewBox="0 0 28 21.7"><polygon points="0,11.3 4.3,6.9 10.5,13.3 23.7,0 28,4.2 10.5,21.7" fill="#4caf50"/></svg>
<div style="position:absolute;left:785.0px;top:649.0px;width:80px;height:40px;line-height:40px;text-align:center;font-size:20px;color:#222;font-weight:500;-webkit-text-stroke:0.4px #222;white-space:nowrap">10'</div>
<svg style="position:absolute;left:863.00px;top:656.95px;" width="28.0" height="21.7" viewBox="0 0 28 21.7"><polygon points="0,11.3 4.3,6.9 10.5,13.3 23.7,0 28,4.2 10.5,21.7" fill="#4caf50"/></svg>
<svg style="position:absolute;left:915.00px;top:656.95px;" width="28.0" height="21.7" viewBox="0 0 28 21.7"><polygon points="0,11.3 4.3,6.9 10.5,13.3 23.7,0 28,4.2 10.5,21.7" fill="#4caf50"/></svg>
<svg style="position:absolute;left:967.00px;top:656.95px;" width="28.0" height="21.7" viewBox="0 0 28 21.7"><polygon points="0,11.3 4.3,6.9 10.5,13.3 23.7,0 28,4.2 10.5,21.7" fill="#4caf50"/></svg>
<svg style="position:absolute;left:1024.50px;top:654.20px;" width="17.0" height="26.0" viewBox="0 0 17 26"><path d="M2.8,7.6 C2.8,4.2 5.4,2.5 8.4,2.5 C11.6,2.5 14,4.5 14,7.3 C14,11.2 7.9,11.6 7.9,15.5 L7.9,16.8" fill="none" stroke="#999999" stroke-width="5" stroke-linecap="butt" stroke-linejoin="round"/><circle cx="8" cy="22.3" r="2.8" fill="#999999"/></svg>
<div style="position:absolute;left:1082.40px;top:668.80px;width:5.2px;height:2px;background:#262626"></div>
<svg style="position:absolute;left:1123.00px;top:656.95px;" width="28.0" height="21.7" viewBox="0 0 28 21.7"><polygon points="0,11.3 4.3,6.9 10.5,13.3 23.7,0 28,4.2 10.5,21.7" fill="#4caf50"/></svg>
<svg style="position:absolute;left:1175.00px;top:654.20px;" width="28.0" height="26.0" viewBox="0 0 28 26"><rect x="9.6" y="0.7" width="9" height="6" rx="1.2" fill="none" stroke="#666666" stroke-width="1.4"/><rect x="0" y="5.4" width="28" height="20.6" rx="3.8" fill="#666666"/><rect x="11.8" y="8.4" width="4.4" height="14.4" fill="#fff"/><rect x="6.8" y="13.4" width="14.4" height="4.2" fill="#fff"/></svg>


<svg style="position:absolute;left:1331.00px;top:656.95px;" width="28.0" height="21.7" viewBox="0 0 28 21.7"><polygon points="0,11.3 4.3,6.9 10.5,13.3 23.7,0 28,4.2 10.5,21.7" fill="#4caf50"/></svg>
<svg style="position:absolute;left:1388.50px;top:654.20px;" width="17.0" height="26.0" viewBox="0 0 17 26"><path d="M2.8,7.6 C2.8,4.2 5.4,2.5 8.4,2.5 C11.6,2.5 14,4.5 14,7.3 C14,11.2 7.9,11.6 7.9,15.5 L7.9,16.8" fill="none" stroke="#999999" stroke-width="5" stroke-linecap="butt" stroke-linejoin="round"/><circle cx="8" cy="22.3" r="2.8" fill="#999999"/></svg>
<div style="position:absolute;left:1409.0px;top:649.0px;width:80px;height:40px;line-height:40px;text-align:center;font-size:20px;color:#222;font-weight:500;-webkit-text-stroke:0.4px #222;white-space:nowrap">67'</div>
<div style="position:absolute;left:1461.0px;top:649.0px;width:80px;height:40px;line-height:40px;text-align:center;font-size:20px;color:#222;font-weight:500;-webkit-text-stroke:0.4px #222;white-space:nowrap">10'</div>
<svg style="position:absolute;left:1544.50px;top:654.20px;" width="17.0" height="26.0" viewBox="0 0 17 26"><path d="M2.8,7.6 C2.8,4.2 5.4,2.5 8.4,2.5 C11.6,2.5 14,4.5 14,7.3 C14,11.2 7.9,11.6 7.9,15.5 L7.9,16.8" fill="none" stroke="#999999" stroke-width="5" stroke-linecap="butt" stroke-linejoin="round"/><circle cx="8" cy="22.3" r="2.8" fill="#999999"/></svg>
<svg style="position:absolute;left:1596.50px;top:654.20px;" width="17.0" height="26.0" viewBox="0 0 17 26"><path d="M2.8,7.6 C2.8,4.2 5.4,2.5 8.4,2.5 C11.6,2.5 14,4.5 14,7.3 C14,11.2 7.9,11.6 7.9,15.5 L7.9,16.8" fill="none" stroke="#999999" stroke-width="5" stroke-linecap="butt" stroke-linejoin="round"/><circle cx="8" cy="22.3" r="2.8" fill="#999999"/></svg>
<div style="position:absolute;left:1617.0px;top:649.0px;width:80px;height:40px;line-height:40px;text-align:center;font-size:20px;color:#222;font-weight:500;-webkit-text-stroke:0.4px #222;white-space:nowrap">90'</div>
<svg style="position:absolute;left:1695.00px;top:656.95px;" width="28.0" height="21.7" viewBox="0 0 28 21.7"><polygon points="0,11.3 4.3,6.9 10.5,13.3 23.7,0 28,4.2 10.5,21.7" fill="#4caf50"/></svg>



<div style="position:absolute;left:1914.40px;top:668.80px;width:5.2px;height:2px;background:#262626"></div>

<div style="position:absolute;left:2018.40px;top:668.80px;width:5.2px;height:2px;background:#262626"></div>




<svg style="position:absolute;left:2267.00px;top:656.95px;" width="28.0" height="21.7" viewBox="0 0 28 21.7"><polygon points="0,11.3 4.3,6.9 10.5,13.3 23.7,0 28,4.2 10.5,21.7" fill="#4caf50"/></svg>
<div style="position:absolute;left:2293.0px;top:649.0px;width:80px;height:40px;line-height:40px;text-align:center;font-size:20px;color:#222;font-weight:500;-webkit-text-stroke:0.4px #222;white-space:nowrap">90'</div>
<svg style="position:absolute;left:2376.50px;top:654.20px;" width="17.0" height="26.0" viewBox="0 0 17 26"><path d="M2.8,7.6 C2.8,4.2 5.4,2.5 8.4,2.5 C11.6,2.5 14,4.5 14,7.3 C14,11.2 7.9,11.6 7.9,15.5 L7.9,16.8" fill="none" stroke="#999999" stroke-width="5" stroke-linecap="butt" stroke-linejoin="round"/><circle cx="8" cy="22.3" r="2.8" fill="#999999"/></svg>
<svg style="position:absolute;left:2423.00px;top:653.20px;" width="28.0" height="28.0" viewBox="0 0 28 28"><path d="M14,0.6 C14.8,0.6 15.3,1.1 15.7,1.8 L27.6,25.2 C28.2,26.6 27.4,28 25.9,28 L2.1,28 C0.6,28 -0.2,26.6 0.4,25.2 L12.3,1.8 C12.7,1.1 13.2,0.6 14,0.6 Z" fill="#f44336"/><rect x="12" y="10.6" width="4" height="9.6" rx="2" fill="#fff"/><circle cx="14" cy="23.6" r="1.9" fill="#fff"/></svg>
<div style="position:absolute;left:2449.0px;top:649.0px;width:80px;height:40px;line-height:40px;text-align:center;font-size:20px;color:#222;font-weight:500;-webkit-text-stroke:0.4px #222;white-space:nowrap">20'</div>



<div style="position:absolute;left:2657px;top:649.0px;width:80px;height:40px;line-height:40px;text-align:center;font-size:20px;color:#2b2b2b;font-weight:bold;white-space:nowrap">88%</div>
<div style="position:absolute;left:0;top:702px;width:180px;height:62px;display:flex;align-items:center;justify-content:flex-end;"><div style="text-align:right;font-size:20px;line-height:30px;font-weight:normal;-webkit-text-stroke:0.8px #2b2b2b;letter-spacing:0.2px;color:#2b2b2b;white-space:nowrap">Zdrzałek Bartłomiej</div></div>
<svg style="position:absolute;left:208.00px;top:720.95px;" width="28.0" height="21.7" viewBox="0 0 28 21.7"><polygon points="0,11.3 4.3,6.9 10.5,13.3 23.7,0 28,4.2 10.5,21.7" fill="#4caf50"/></svg>
<svg style="position:absolute;left:258.00px;top:720.95px;" width="28.0" height="21.7" viewBox="0 0 28 21.7"><polygon points="0,11.3 4.3,6.9 10.5,13.3 23.7,0 28,4.2 10.5,21.7" fill="#4caf50"/></svg>
<svg style="position:absolute;left:308.00px;top:720.95px;" width="28.0" height="21.7" viewBox="0 0 28 21.7"><polygon points="0,11.3 4.3,6.9 10.5,13.3 23.7,0 28,4.2 10.5,21.7" fill="#4caf50"/></svg>
<svg style="position:absolute;left:358.00px;top:720.95px;" width="28.0" height="21.7" viewBox="0 0 28 21.7"><polygon points="0,11.3 4.3,6.9 10.5,13.3 23.7,0 28,4.2 10.5,21.7" fill="#4caf50"/></svg>
<div style="position:absolute;left:382.0px;top:713.0px;width:80px;height:40px;line-height:40px;text-align:center;font-size:20px;color:#222;font-weight:500;-webkit-text-stroke:0.4px #222;white-space:nowrap">90'</div>
<div style="position:absolute;left:432.0px;top:713.0px;width:80px;height:40px;line-height:40px;text-align:center;font-size:20px;color:#222;font-weight:500;-webkit-text-stroke:0.4px #222;white-space:nowrap">90'</div>
<div style="position:absolute;left:482.0px;top:713.0px;width:80px;height:40px;line-height:40px;text-align:center;font-size:20px;color:#222;font-weight:500;-webkit-text-stroke:0.4px #222;white-space:nowrap">5'</div>
<div style="position:absolute;left:532.0px;top:713.0px;width:80px;height:40px;line-height:40px;text-align:center;font-size:20px;color:#222;font-weight:500;-webkit-text-stroke:0.4px #222;white-space:nowrap">10'</div>
<svg style="position:absolute;left:608.00px;top:720.95px;" width="28.0" height="21.7" viewBox="0 0 28 21.7"><polygon points="0,11.3 4.3,6.9 10.5,13.3 23.7,0 28,4.2 10.5,21.7" fill="#4caf50"/></svg>
<svg style="position:absolute;left:658.00px;top:717.20px;" width="28.0" height="28.0" viewBox="0 0 28 28"><circle cx="14" cy="14" r="12.5" fill="none" stroke="#666666" stroke-width="2.9"/><circle cx="14" cy="14" r="5.1" fill="#666666"/></svg>
<svg style="position:absolute;left:711.20px;top:717.20px;" width="20.0" height="28.0" viewBox="0 0 20 28"><path d="M5.6,0 L14.4,0 L15,5.4 L5,5.4 Z" fill="#4caf50"/><path d="M5,22.6 L15,22.6 L14.4,28 L5.6,28 Z" fill="#4caf50"/><rect x="0.9" y="5.4" width="18.2" height="17.2" rx="3" ry="3" fill="none" stroke="#4caf50" stroke-width="1.8"/><path d="M4.1,10.6 H8.4 V13.4 H5.2 V16.8 H8.6" fill="none" stroke="#4caf50" stroke-width="1.5"/><path d="M11.2,10.3 V14.4 H15.4 M14.8,10.3 V19.4" fill="none" stroke="#4caf50" stroke-width="1.5"/></svg>
<svg style="position:absolute;left:759.00px;top:720.95px;" width="28.0" height="21.7" viewBox="0 0 28 21.7"><polygon points="0,11.3 4.3,6.9 10.5,13.3 23.7,0 28,4.2 10.5,21.7" fill="#4caf50"/></svg>
<div style="position:absolute;left:785.0px;top:713.0px;width:80px;height:40px;line-height:40px;text-align:center;font-size:20px;color:#222;font-weight:500;-webkit-text-stroke:0.4px #222;white-space:nowrap">10'</div>

<svg style="position:absolute;left:915.00px;top:720.95px;" width="28.0" height="21.7" viewBox="0 0 28 21.7"><polygon points="0,11.3 4.3,6.9 10.5,13.3 23.7,0 28,4.2 10.5,21.7" fill="#4caf50"/></svg>
<svg style="position:absolute;left:970.20px;top:717.20px;" width="20.0" height="28.0" viewBox="0 0 20 28"><path d="M5.6,0 L14.4,0 L15,5.4 L5,5.4 Z" fill="#4caf50"/><path d="M5,22.6 L15,22.6 L14.4,28 L5.6,28 Z" fill="#4caf50"/><rect x="0.9" y="5.4" width="18.2" height="17.2" rx="3" ry="3" fill="none" stroke="#4caf50" stroke-width="1.8"/><path d="M4.1,10.6 H8.4 V13.4 H5.2 V16.8 H8.6" fill="none" stroke="#4caf50" stroke-width="1.5"/><path d="M11.2,10.3 V14.4 H15.4 M14.8,10.3 V19.4" fill="none" stroke="#4caf50" stroke-width="1.5"/></svg>
<svg style="position:absolute;left:1024.50px;top:718.20px;" width="17.0" height="26.0" viewBox="0 0 17 26"><path d="M2.8,7.6 C2.8,4.2 5.4,2.5 8.4,2.5 C11.6,2.5 14,4.5 14,7.3 C14,11.2 7.9,11.6 7.9,15.5 L7.9,16.8" fill="none" stroke="#999999" stroke-width="5" stroke-linecap="butt" stroke-linejoin="round"/><circle cx="8" cy="22.3" r="2.8" fill="#999999"/></svg>
<div style="position:absolute;left:1082.40px;top:732.80px;width:5.2px;height:2px;background:#262626"></div>
<svg style="position:absolute;left:1123.00px;top:720.95px;" width="28.0" height="21.7" viewBox="0 0 28 21.7"><polygon points="0,11.3 4.3,6.9 10.5,13.3 23.7,0 28,4.2 10.5,21.7" fill="#4caf50"/></svg>
<svg style="position:absolute;left:1178.20px;top:717.20px;" width="20.0" height="28.0" viewBox="0 0 20 28"><path d="M5.6,0 L14.4,0 L15,5.4 L5,5.4 Z" fill="#4caf50"/><path d="M5,22.6 L15,22.6 L14.4,28 L5.6,28 Z" fill="#4caf50"/><rect x="0.9" y="5.4" width="18.2" height="17.2" rx="3" ry="3" fill="none" stroke="#4caf50" stroke-width="1.8"/><path d="M4.1,10.6 H8.4 V13.4 H5.2 V16.8 H8.6" fill="none" stroke="#4caf50" stroke-width="1.5"/><path d="M11.2,10.3 V14.4 H15.4 M14.8,10.3 V19.4" fill="none" stroke="#4caf50" stroke-width="1.5"/></svg>
<div style="position:absolute;left:1201.0px;top:713.0px;width:80px;height:40px;line-height:40px;text-align:center;font-size:20px;color:#222;font-weight:500;-webkit-text-stroke:0.4px #222;white-space:nowrap">10'</div>

<svg style="position:absolute;left:1331.00px;top:720.95px;" width="28.0" height="21.7" viewBox="0 0 28 21.7"><polygon points="0,11.3 4.3,6.9 10.5,13.3 23.7,0 28,4.2 10.5,21.7" fill="#4caf50"/></svg>
<svg style="position:absolute;left:1388.50px;top:718.20px;" width="17.0" height="26.0" viewBox="0 0 17 26"><path d="M2.8,7.6 C2.8,4.2 5.4,2.5 8.4,2.5 C11.6,2.5 14,4.5 14,7.3 C14,11.2 7.9,11.6 7.9,15.5 L7.9,16.8" fill="none" stroke="#999999" stroke-width="5" stroke-linecap="butt" stroke-linejoin="round"/><circle cx="8" cy="22.3" r="2.8" fill="#999999"/></svg>
<div style="position:absolute;left:1409.0px;top:713.0px;width:80px;height:40px;line-height:40px;text-align:center;font-size:20px;color:#222;font-weight:500;-webkit-text-stroke:0.4px #222;white-space:nowrap">90'</div>
<div style="position:absolute;left:1461.0px;top:713.0px;width:80px;height:40px;line-height:40px;text-align:center;font-size:20px;color:#222;font-weight:500;-webkit-text-stroke:0.4px #222;white-space:nowrap">10'</div>
<svg style="position:absolute;left:1544.50px;top:718.20px;" width="17.0" height="26.0" viewBox="0 0 17 26"><path d="M2.8,7.6 C2.8,4.2 5.4,2.5 8.4,2.5 C11.6,2.5 14,4.5 14,7.3 C14,11.2 7.9,11.6 7.9,15.5 L7.9,16.8" fill="none" stroke="#999999" stroke-width="5" stroke-linecap="butt" stroke-linejoin="round"/><circle cx="8" cy="22.3" r="2.8" fill="#999999"/></svg>
<div style="position:absolute;left:1602.40px;top:732.80px;width:5.2px;height:2px;background:#262626"></div>
<div style="position:absolute;left:1617.0px;top:713.0px;width:80px;height:40px;line-height:40px;text-align:center;font-size:20px;color:#222;font-weight:500;-webkit-text-stroke:0.4px #222;white-space:nowrap">90'</div>
<svg style="position:absolute;left:1695.00px;top:720.95px;" width="28.0" height="21.7" viewBox="0 0 28 21.7"><polygon points="0,11.3 4.3,6.9 10.5,13.3 23.7,0 28,4.2 10.5,21.7" fill="#4caf50"/></svg>



<div style="position:absolute;left:1914.40px;top:732.80px;width:5.2px;height:2px;background:#262626"></div>

<div style="position:absolute;left:2018.40px;top:732.80px;width:5.2px;height:2px;background:#262626"></div>
<svg style="position:absolute;left:2059.00px;top:717.20px;" width="28.0" height="28.0" viewBox="0 0 28 28"><circle cx="14" cy="14" r="12.5" fill="none" stroke="#666666" stroke-width="2.9"/></svg>



<svg style="position:absolute;left:2267.00px;top:720.95px;" width="28.0" height="21.7" viewBox="0 0 28 21.7"><polygon points="0,11.3 4.3,6.9 10.5,13.3 23.7,0 28,4.2 10.5,21.7" fill="#4caf50"/></svg>
<div style="position:absolute;left:2293.0px;top:713.0px;width:80px;height:40px;line-height:40px;text-align:center;font-size:20px;color:#222;font-weight:500;-webkit-text-stroke:0.4px #222;white-space:nowrap">90'</div>
<svg style="position:absolute;left:2376.50px;top:718.20px;" width="17.0" height="26.0" viewBox="0 0 17 26"><path d="M2.8,7.6 C2.8,4.2 5.4,2.5 8.4,2.5 C11.6,2.5 14,4.5 14,7.3 C14,11.2 7.9,11.6 7.9,15.5 L7.9,16.8" fill="none" stroke="#999999" stroke-width="5" stroke-linecap="butt" stroke-linejoin="round"/><circle cx="8" cy="22.3" r="2.8" fill="#999999"/></svg>
<svg style="position:absolute;left:2426.20px;top:717.20px;" width="20.0" height="28.0" viewBox="0 0 20 28"><path d="M5.6,0 L14.4,0 L15,5.4 L5,5.4 Z" fill="#4caf50"/><path d="M5,22.6 L15,22.6 L14.4,28 L5.6,28 Z" fill="#4caf50"/><rect x="0.9" y="5.4" width="18.2" height="17.2" rx="3" ry="3" fill="none" stroke="#4caf50" stroke-width="1.8"/><path d="M4.1,10.6 H8.4 V13.4 H5.2 V16.8 H8.6" fill="none" stroke="#4caf50" stroke-width="1.5"/><path d="M11.2,10.3 V14.4 H15.4 M14.8,10.3 V19.4" fill="none" stroke="#4caf50" stroke-width="1.5"/></svg>
<div style="position:absolute;left:2449.0px;top:713.0px;width:80px;height:40px;line-height:40px;text-align:center;font-size:20px;color:#222;font-weight:500;-webkit-text-stroke:0.4px #222;white-space:nowrap">20'</div>



<div style="position:absolute;left:2657px;top:713.0px;width:80px;height:40px;line-height:40px;text-align:center;font-size:20px;color:#2b2b2b;font-weight:bold;white-space:nowrap">94%</div>
<div style="position:absolute;left:0;top:766px;width:180px;height:62px;display:flex;align-items:center;justify-content:flex-end;"><div style="text-align:right;font-size:20px;line-height:30px;font-weight:normal;-webkit-text-stroke:0.8px #2b2b2b;letter-spacing:0.2px;color:#2b2b2b;white-space:nowrap">Drużyna</div></div>
<svg style="position:absolute;left:209.50px;top:781.90px;" width="25.0" height="28.0" viewBox="0 0 25 28"><path d="M2.9,1 L16.4,1 L23.6,8.6 L23.6,25 C23.6,26.3 22.7,27 21.6,27 L3,27 C1.9,27 1,26.3 1,25 L1,3 C1,1.8 1.9,1 2.9,1 Z" fill="none" stroke="#666666" stroke-width="1.8" stroke-linejoin="round"/><path d="M16.2,1.4 L16.2,8.4 L23.2,8.4" fill="none" stroke="#666666" stroke-width="1.8"/><path d="M3.7,15.6 H8.6 M3.7,19.1 H8.6 M3.7,22.5 H8.6" stroke="#666666" stroke-width="1.6"/><path d="M14.7,14.8 A4.6,4.6 0 1 0 19.3,19.4 L14.7,19.4 Z" fill="#666666"/><path d="M16.1,13.4 A4.6,4.6 0 0 1 20.7,18 L16.1,18 Z" fill="#666666"/></svg>
<svg style="position:absolute;left:259.50px;top:781.90px;" width="25.0" height="28.0" viewBox="0 0 25 28"><path d="M2.9,1 L16.4,1 L23.6,8.6 L23.6,25 C23.6,26.3 22.7,27 21.6,27 L3,27 C1.9,27 1,26.3 1,25 L1,3 C1,1.8 1.9,1 2.9,1 Z" fill="none" stroke="#666666" stroke-width="1.8" stroke-linejoin="round"/><path d="M16.2,1.4 L16.2,8.4 L23.2,8.4" fill="none" stroke="#666666" stroke-width="1.8"/><path d="M3.7,15.6 H8.6 M3.7,19.1 H8.6 M3.7,22.5 H8.6" stroke="#666666" stroke-width="1.6"/><path d="M14.7,14.8 A4.6,4.6 0 1 0 19.3,19.4 L14.7,19.4 Z" fill="#666666"/><path d="M16.1,13.4 A4.6,4.6 0 0 1 20.7,18 L16.1,18 Z" fill="#666666"/></svg>
<svg style="position:absolute;left:309.50px;top:781.90px;" width="25.0" height="28.0" viewBox="0 0 25 28"><path d="M2.9,1 L16.4,1 L23.6,8.6 L23.6,25 C23.6,26.3 22.7,27 21.6,27 L3,27 C1.9,27 1,26.3 1,25 L1,3 C1,1.8 1.9,1 2.9,1 Z" fill="none" stroke="#666666" stroke-width="1.8" stroke-linejoin="round"/><path d="M16.2,1.4 L16.2,8.4 L23.2,8.4" fill="none" stroke="#666666" stroke-width="1.8"/><path d="M3.7,15.6 H8.6 M3.7,19.1 H8.6 M3.7,22.5 H8.6" stroke="#666666" stroke-width="1.6"/><path d="M14.7,14.8 A4.6,4.6 0 1 0 19.3,19.4 L14.7,19.4 Z" fill="#666666"/><path d="M16.1,13.4 A4.6,4.6 0 0 1 20.7,18 L16.1,18 Z" fill="#666666"/></svg>
<svg style="position:absolute;left:359.50px;top:781.90px;" width="25.0" height="28.0" viewBox="0 0 25 28"><path d="M2.9,1 L16.4,1 L23.6,8.6 L23.6,25 C23.6,26.3 22.7,27 21.6,27 L3,27 C1.9,27 1,26.3 1,25 L1,3 C1,1.8 1.9,1 2.9,1 Z" fill="none" stroke="#666666" stroke-width="1.8" stroke-linejoin="round"/><path d="M16.2,1.4 L16.2,8.4 L23.2,8.4" fill="none" stroke="#666666" stroke-width="1.8"/><path d="M3.7,15.6 H8.6 M3.7,19.1 H8.6 M3.7,22.5 H8.6" stroke="#666666" stroke-width="1.6"/><path d="M14.7,14.8 A4.6,4.6 0 1 0 19.3,19.4 L14.7,19.4 Z" fill="#666666"/><path d="M16.1,13.4 A4.6,4.6 0 0 1 20.7,18 L16.1,18 Z" fill="#666666"/></svg>




<svg style="position:absolute;left:609.50px;top:781.90px;" width="25.0" height="28.0" viewBox="0 0 25 28"><path d="M2.9,1 L16.4,1 L23.6,8.6 L23.6,25 C23.6,26.3 22.7,27 21.6,27 L3,27 C1.9,27 1,26.3 1,25 L1,3 C1,1.8 1.9,1 2.9,1 Z" fill="none" stroke="#666666" stroke-width="1.8" stroke-linejoin="round"/><path d="M16.2,1.4 L16.2,8.4 L23.2,8.4" fill="none" stroke="#666666" stroke-width="1.8"/><path d="M3.7,15.6 H8.6 M3.7,19.1 H8.6 M3.7,22.5 H8.6" stroke="#666666" stroke-width="1.6"/><path d="M14.7,14.8 A4.6,4.6 0 1 0 19.3,19.4 L14.7,19.4 Z" fill="#666666"/><path d="M16.1,13.4 A4.6,4.6 0 0 1 20.7,18 L16.1,18 Z" fill="#666666"/></svg>

<svg style="position:absolute;left:709.50px;top:781.90px;" width="25.0" height="28.0" viewBox="0 0 25 28"><path d="M2.9,1 L16.4,1 L23.6,8.6 L23.6,25 C23.6,26.3 22.7,27 21.6,27 L3,27 C1.9,27 1,26.3 1,25 L1,3 C1,1.8 1.9,1 2.9,1 Z" fill="none" stroke="#666666" stroke-width="1.8" stroke-linejoin="round"/><path d="M16.2,1.4 L16.2,8.4 L23.2,8.4" fill="none" stroke="#666666" stroke-width="1.8"/><path d="M3.7,15.6 H8.6 M3.7,19.1 H8.6 M3.7,22.5 H8.6" stroke="#666666" stroke-width="1.6"/><path d="M14.7,14.8 A4.6,4.6 0 1 0 19.3,19.4 L14.7,19.4 Z" fill="#666666"/><path d="M16.1,13.4 A4.6,4.6 0 0 1 20.7,18 L16.1,18 Z" fill="#666666"/></svg>
<svg style="position:absolute;left:760.50px;top:781.90px;" width="25.0" height="28.0" viewBox="0 0 25 28"><path d="M2.9,1 L16.4,1 L23.6,8.6 L23.6,25 C23.6,26.3 22.7,27 21.6,27 L3,27 C1.9,27 1,26.3 1,25 L1,3 C1,1.8 1.9,1 2.9,1 Z" fill="none" stroke="#666666" stroke-width="1.8" stroke-linejoin="round"/><path d="M16.2,1.4 L16.2,8.4 L23.2,8.4" fill="none" stroke="#666666" stroke-width="1.8"/><path d="M3.7,15.6 H8.6 M3.7,19.1 H8.6 M3.7,22.5 H8.6" stroke="#666666" stroke-width="1.6"/><path d="M14.7,14.8 A4.6,4.6 0 1 0 19.3,19.4 L14.7,19.4 Z" fill="#666666"/><path d="M16.1,13.4 A4.6,4.6 0 0 1 20.7,18 L16.1,18 Z" fill="#666666"/></svg>

<svg style="position:absolute;left:864.50px;top:781.90px;" width="25.0" height="28.0" viewBox="0 0 25 28"><path d="M2.9,1 L16.4,1 L23.6,8.6 L23.6,25 C23.6,26.3 22.7,27 21.6,27 L3,27 C1.9,27 1,26.3 1,25 L1,3 C1,1.8 1.9,1 2.9,1 Z" fill="none" stroke="#666666" stroke-width="1.8" stroke-linejoin="round"/><path d="M16.2,1.4 L16.2,8.4 L23.2,8.4" fill="none" stroke="#666666" stroke-width="1.8"/><path d="M3.7,15.6 H8.6 M3.7,19.1 H8.6 M3.7,22.5 H8.6" stroke="#666666" stroke-width="1.6"/><path d="M14.7,14.8 A4.6,4.6 0 1 0 19.3,19.4 L14.7,19.4 Z" fill="#666666"/><path d="M16.1,13.4 A4.6,4.6 0 0 1 20.7,18 L16.1,18 Z" fill="#666666"/></svg>
<svg style="position:absolute;left:916.50px;top:781.90px;" width="25.0" height="28.0" viewBox="0 0 25 28"><path d="M2.9,1 L16.4,1 L23.6,8.6 L23.6,25 C23.6,26.3 22.7,27 21.6,27 L3,27 C1.9,27 1,26.3 1,25 L1,3 C1,1.8 1.9,1 2.9,1 Z" fill="none" stroke="#666666" stroke-width="1.8" stroke-linejoin="round"/><path d="M16.2,1.4 L16.2,8.4 L23.2,8.4" fill="none" stroke="#666666" stroke-width="1.8"/><path d="M3.7,15.6 H8.6 M3.7,19.1 H8.6 M3.7,22.5 H8.6" stroke="#666666" stroke-width="1.6"/><path d="M14.7,14.8 A4.6,4.6 0 1 0 19.3,19.4 L14.7,19.4 Z" fill="#666666"/><path d="M16.1,13.4 A4.6,4.6 0 0 1 20.7,18 L16.1,18 Z" fill="#666666"/></svg>
<svg style="position:absolute;left:968.50px;top:781.90px;" width="25.0" height="28.0" viewBox="0 0 25 28"><path d="M2.9,1 L16.4,1 L23.6,8.6 L23.6,25 C23.6,26.3 22.7,27 21.6,27 L3,27 C1.9,27 1,26.3 1,25 L1,3 C1,1.8 1.9,1 2.9,1 Z" fill="none" stroke="#666666" stroke-width="1.8" stroke-linejoin="round"/><path d="M16.2,1.4 L16.2,8.4 L23.2,8.4" fill="none" stroke="#666666" stroke-width="1.8"/><path d="M3.7,15.6 H8.6 M3.7,19.1 H8.6 M3.7,22.5 H8.6" stroke="#666666" stroke-width="1.6"/><path d="M14.7,14.8 A4.6,4.6 0 1 0 19.3,19.4 L14.7,19.4 Z" fill="#666666"/><path d="M16.1,13.4 A4.6,4.6 0 0 1 20.7,18 L16.1,18 Z" fill="#666666"/></svg>
<svg style="position:absolute;left:1020.50px;top:781.90px;" width="25.0" height="28.0" viewBox="0 0 25 28"><path d="M2.9,1 L16.4,1 L23.6,8.6 L23.6,25 C23.6,26.3 22.7,27 21.6,27 L3,27 C1.9,27 1,26.3 1,25 L1,3 C1,1.8 1.9,1 2.9,1 Z" fill="none" stroke="#666666" stroke-width="1.8" stroke-linejoin="round"/><path d="M16.2,1.4 L16.2,8.4 L23.2,8.4" fill="none" stroke="#666666" stroke-width="1.8"/><path d="M3.7,15.6 H8.6 M3.7,19.1 H8.6 M3.7,22.5 H8.6" stroke="#666666" stroke-width="1.6"/><path d="M14.7,14.8 A4.6,4.6 0 1 0 19.3,19.4 L14.7,19.4 Z" fill="#666666"/><path d="M16.1,13.4 A4.6,4.6 0 0 1 20.7,18 L16.1,18 Z" fill="#666666"/></svg>

<svg style="position:absolute;left:1124.50px;top:781.90px;" width="25.0" height="28.0" viewBox="0 0 25 28"><path d="M2.9,1 L16.4,1 L23.6,8.6 L23.6,25 C23.6,26.3 22.7,27 21.6,27 L3,27 C1.9,27 1,26.3 1,25 L1,3 C1,1.8 1.9,1 2.9,1 Z" fill="none" stroke="#666666" stroke-width="1.8" stroke-linejoin="round"/><path d="M16.2,1.4 L16.2,8.4 L23.2,8.4" fill="none" stroke="#666666" stroke-width="1.8"/><path d="M3.7,15.6 H8.6 M3.7,19.1 H8.6 M3.7,22.5 H8.6" stroke="#666666" stroke-width="1.6"/><path d="M14.7,14.8 A4.6,4.6 0 1 0 19.3,19.4 L14.7,19.4 Z" fill="#666666"/><path d="M16.1,13.4 A4.6,4.6 0 0 1 20.7,18 L16.1,18 Z" fill="#666666"/></svg>
<svg style="position:absolute;left:1176.50px;top:781.90px;" width="25.0" height="28.0" viewBox="0 0 25 28"><path d="M2.9,1 L16.4,1 L23.6,8.6 L23.6,25 C23.6,26.3 22.7,27 21.6,27 L3,27 C1.9,27 1,26.3 1,25 L1,3 C1,1.8 1.9,1 2.9,1 Z" fill="none" stroke="#666666" stroke-width="1.8" stroke-linejoin="round"/><path d="M16.2,1.4 L16.2,8.4 L23.2,8.4" fill="none" stroke="#666666" stroke-width="1.8"/><path d="M3.7,15.6 H8.6 M3.7,19.1 H8.6 M3.7,22.5 H8.6" stroke="#666666" stroke-width="1.6"/><path d="M14.7,14.8 A4.6,4.6 0 1 0 19.3,19.4 L14.7,19.4 Z" fill="#666666"/><path d="M16.1,13.4 A4.6,4.6 0 0 1 20.7,18 L16.1,18 Z" fill="#666666"/></svg>


<svg style="position:absolute;left:1332.50px;top:781.90px;" width="25.0" height="28.0" viewBox="0 0 25 28"><path d="M2.9,1 L16.4,1 L23.6,8.6 L23.6,25 C23.6,26.3 22.7,27 21.6,27 L3,27 C1.9,27 1,26.3 1,25 L1,3 C1,1.8 1.9,1 2.9,1 Z" fill="none" stroke="#666666" stroke-width="1.8" stroke-linejoin="round"/><path d="M16.2,1.4 L16.2,8.4 L23.2,8.4" fill="none" stroke="#666666" stroke-width="1.8"/><path d="M3.7,15.6 H8.6 M3.7,19.1 H8.6 M3.7,22.5 H8.6" stroke="#666666" stroke-width="1.6"/><path d="M14.7,14.8 A4.6,4.6 0 1 0 19.3,19.4 L14.7,19.4 Z" fill="#666666"/><path d="M16.1,13.4 A4.6,4.6 0 0 1 20.7,18 L16.1,18 Z" fill="#666666"/></svg>
<svg style="position:absolute;left:1384.50px;top:781.90px;" width="25.0" height="28.0" viewBox="0 0 25 28"><path d="M2.9,1 L16.4,1 L23.6,8.6 L23.6,25 C23.6,26.3 22.7,27 21.6,27 L3,27 C1.9,27 1,26.3 1,25 L1,3 C1,1.8 1.9,1 2.9,1 Z" fill="none" stroke="#666666" stroke-width="1.8" stroke-linejoin="round"/><path d="M16.2,1.4 L16.2,8.4 L23.2,8.4" fill="none" stroke="#666666" stroke-width="1.8"/><path d="M3.7,15.6 H8.6 M3.7,19.1 H8.6 M3.7,22.5 H8.6" stroke="#666666" stroke-width="1.6"/><path d="M14.7,14.8 A4.6,4.6 0 1 0 19.3,19.4 L14.7,19.4 Z" fill="#666666"/><path d="M16.1,13.4 A4.6,4.6 0 0 1 20.7,18 L16.1,18 Z" fill="#666666"/></svg>


<svg style="position:absolute;left:1540.50px;top:781.90px;" width="25.0" height="28.0" viewBox="0 0 25 28"><path d="M2.9,1 L16.4,1 L23.6,8.6 L23.6,25 C23.6,26.3 22.7,27 21.6,27 L3,27 C1.9,27 1,26.3 1,25 L1,3 C1,1.8 1.9,1 2.9,1 Z" fill="none" stroke="#666666" stroke-width="1.8" stroke-linejoin="round"/><path d="M16.2,1.4 L16.2,8.4 L23.2,8.4" fill="none" stroke="#666666" stroke-width="1.8"/><path d="M3.7,15.6 H8.6 M3.7,19.1 H8.6 M3.7,22.5 H8.6" stroke="#666666" stroke-width="1.6"/><path d="M14.7,14.8 A4.6,4.6 0 1 0 19.3,19.4 L14.7,19.4 Z" fill="#666666"/><path d="M16.1,13.4 A4.6,4.6 0 0 1 20.7,18 L16.1,18 Z" fill="#666666"/></svg>
<svg style="position:absolute;left:1592.50px;top:781.90px;" width="25.0" height="28.0" viewBox="0 0 25 28"><path d="M2.9,1 L16.4,1 L23.6,8.6 L23.6,25 C23.6,26.3 22.7,27 21.6,27 L3,27 C1.9,27 1,26.3 1,25 L1,3 C1,1.8 1.9,1 2.9,1 Z" fill="none" stroke="#666666" stroke-width="1.8" stroke-linejoin="round"/><path d="M16.2,1.4 L16.2,8.4 L23.2,8.4" fill="none" stroke="#666666" stroke-width="1.8"/><path d="M3.7,15.6 H8.6 M3.7,19.1 H8.6 M3.7,22.5 H8.6" stroke="#666666" stroke-width="1.6"/><path d="M14.7,14.8 A4.6,4.6 0 1 0 19.3,19.4 L14.7,19.4 Z" fill="#666666"/><path d="M16.1,13.4 A4.6,4.6 0 0 1 20.7,18 L16.1,18 Z" fill="#666666"/></svg>

<svg style="position:absolute;left:1696.50px;top:781.90px;" width="25.0" height="28.0" viewBox="0 0 25 28"><path d="M2.9,1 L16.4,1 L23.6,8.6 L23.6,25 C23.6,26.3 22.7,27 21.6,27 L3,27 C1.9,27 1,26.3 1,25 L1,3 C1,1.8 1.9,1 2.9,1 Z" fill="none" stroke="#666666" stroke-width="1.8" stroke-linejoin="round"/><path d="M16.2,1.4 L16.2,8.4 L23.2,8.4" fill="none" stroke="#666666" stroke-width="1.8"/><path d="M3.7,15.6 H8.6 M3.7,19.1 H8.6 M3.7,22.5 H8.6" stroke="#666666" stroke-width="1.6"/><path d="M14.7,14.8 A4.6,4.6 0 1 0 19.3,19.4 L14.7,19.4 Z" fill="#666666"/><path d="M16.1,13.4 A4.6,4.6 0 0 1 20.7,18 L16.1,18 Z" fill="#666666"/></svg>










<svg style="position:absolute;left:2268.50px;top:781.90px;" width="25.0" height="28.0" viewBox="0 0 25 28"><path d="M2.9,1 L16.4,1 L23.6,8.6 L23.6,25 C23.6,26.3 22.7,27 21.6,27 L3,27 C1.9,27 1,26.3 1,25 L1,3 C1,1.8 1.9,1 2.9,1 Z" fill="none" stroke="#666666" stroke-width="1.8" stroke-linejoin="round"/><path d="M16.2,1.4 L16.2,8.4 L23.2,8.4" fill="none" stroke="#666666" stroke-width="1.8"/><path d="M3.7,15.6 H8.6 M3.7,19.1 H8.6 M3.7,22.5 H8.6" stroke="#666666" stroke-width="1.6"/><path d="M14.7,14.8 A4.6,4.6 0 1 0 19.3,19.4 L14.7,19.4 Z" fill="#666666"/><path d="M16.1,13.4 A4.6,4.6 0 0 1 20.7,18 L16.1,18 Z" fill="#666666"/></svg>

<svg style="position:absolute;left:2372.50px;top:781.90px;" width="25.0" height="28.0" viewBox="0 0 25 28"><path d="M2.9,1 L16.4,1 L23.6,8.6 L23.6,25 C23.6,26.3 22.7,27 21.6,27 L3,27 C1.9,27 1,26.3 1,25 L1,3 C1,1.8 1.9,1 2.9,1 Z" fill="none" stroke="#666666" stroke-width="1.8" stroke-linejoin="round"/><path d="M16.2,1.4 L16.2,8.4 L23.2,8.4" fill="none" stroke="#666666" stroke-width="1.8"/><path d="M3.7,15.6 H8.6 M3.7,19.1 H8.6 M3.7,22.5 H8.6" stroke="#666666" stroke-width="1.6"/><path d="M14.7,14.8 A4.6,4.6 0 1 0 19.3,19.4 L14.7,19.4 Z" fill="#666666"/><path d="M16.1,13.4 A4.6,4.6 0 0 1 20.7,18 L16.1,18 Z" fill="#666666"/></svg>
<svg style="position:absolute;left:2424.50px;top:781.90px;" width="25.0" height="28.0" viewBox="0 0 25 28"><path d="M2.9,1 L16.4,1 L23.6,8.6 L23.6,25 C23.6,26.3 22.7,27 21.6,27 L3,27 C1.9,27 1,26.3 1,25 L1,3 C1,1.8 1.9,1 2.9,1 Z" fill="none" stroke="#666666" stroke-width="1.8" stroke-linejoin="round"/><path d="M16.2,1.4 L16.2,8.4 L23.2,8.4" fill="none" stroke="#666666" stroke-width="1.8"/><path d="M3.7,15.6 H8.6 M3.7,19.1 H8.6 M3.7,22.5 H8.6" stroke="#666666" stroke-width="1.6"/><path d="M14.7,14.8 A4.6,4.6 0 1 0 19.3,19.4 L14.7,19.4 Z" fill="#666666"/><path d="M16.1,13.4 A4.6,4.6 0 0 1 20.7,18 L16.1,18 Z" fill="#666666"/></svg>




<div style="position:absolute;left:2657px;top:777.0px;width:80px;height:40px;line-height:40px;text-align:center;font-size:20px;color:#2b2b2b;font-weight:bold;white-space:nowrap">89%</div>
<div style="position:absolute;left:196px;top:322px;width:2px;height:506px;background:#dddddd;"></div>
<div style="position:absolute;left:246px;top:322px;width:2px;height:506px;background:#dddddd;"></div>
<div style="position:absolute;left:296px;top:322px;width:2px;height:506px;background:#dddddd;"></div>
<div style="position:absolute;left:346px;top:322px;width:2px;height:506px;background:#dddddd;"></div>
<div style="position:absolute;left:396px;top:322px;width:2px;height:506px;background:#dddddd;"></div>
<div style="position:absolute;left:446px;top:322px;width:2px;height:506px;background:#dddddd;"></div>
<div style="position:absolute;left:496px;top:322px;width:2px;height:506px;background:#dddddd;"></div>
<div style="position:absolute;left:546px;top:322px;width:2px;height:506px;background:#dddddd;"></div>
<div style="position:absolute;left:596px;top:322px;width:2px;height:506px;background:#dddddd;"></div>
<div style="position:absolute;left:646px;top:322px;width:2px;height:506px;background:#dddddd;"></div>
<div style="position:absolute;left:696px;top:322px;width:2px;height:506px;background:#dddddd;"></div>
<div style="position:absolute;left:746px;top:322px;width:2px;height:506px;background:#dddddd;"></div>
<div style="position:absolute;left:798px;top:322px;width:2px;height:506px;background:#dddddd;"></div>
<div style="position:absolute;left:850px;top:322px;width:2px;height:506px;background:#dddddd;"></div>
<div style="position:absolute;left:902px;top:322px;width:2px;height:506px;background:#dddddd;"></div>
<div style="position:absolute;left:954px;top:322px;width:2px;height:506px;background:#dddddd;"></div>
<div style="position:absolute;left:1006px;top:322px;width:2px;height:506px;background:#dddddd;"></div>
<div style="position:absolute;left:1058px;top:322px;width:2px;height:506px;background:#dddddd;"></div>
<div style="position:absolute;left:1110px;top:322px;width:2px;height:506px;background:#dddddd;"></div>
<div style="position:absolute;left:1162px;top:322px;width:2px;height:506px;background:#dddddd;"></div>
<div style="position:absolute;left:1214px;top:322px;width:2px;height:506px;background:#dddddd;"></div>
<div style="position:absolute;left:1266px;top:322px;width:2px;height:506px;background:#dddddd;"></div>
<div style="position:absolute;left:1318px;top:322px;width:2px;height:506px;background:#dddddd;"></div>
<div style="position:absolute;left:1370px;top:322px;width:2px;height:506px;background:#dddddd;"></div>
<div style="position:absolute;left:1422px;top:322px;width:2px;height:506px;background:#dddddd;"></div>
<div style="position:absolute;left:1474px;top:322px;width:2px;height:506px;background:#dddddd;"></div>
<div style="position:absolute;left:1526px;top:322px;width:2px;height:506px;background:#dddddd;"></div>
<div style="position:absolute;left:1578px;top:322px;width:2px;height:506px;background:#dddddd;"></div>
<div style="position:absolute;left:1630px;top:322px;width:2px;height:506px;background:#dddddd;"></div>
<div style="position:absolute;left:1682px;top:322px;width:2px;height:506px;background:#dddddd;"></div>
<div style="position:absolute;left:1734px;top:322px;width:2px;height:506px;background:#dddddd;"></div>
<div style="position:absolute;left:1786px;top:322px;width:2px;height:506px;background:#dddddd;"></div>
<div style="position:absolute;left:1838px;top:322px;width:2px;height:506px;background:#dddddd;"></div>
<div style="position:absolute;left:1890px;top:322px;width:2px;height:506px;background:#dddddd;"></div>
<div style="position:absolute;left:1942px;top:322px;width:2px;height:506px;background:#dddddd;"></div>
<div style="position:absolute;left:1994px;top:322px;width:2px;height:506px;background:#dddddd;"></div>
<div style="position:absolute;left:2046px;top:322px;width:2px;height:506px;background:#dddddd;"></div>
<div style="position:absolute;left:2098px;top:322px;width:2px;height:506px;background:#dddddd;"></div>
<div style="position:absolute;left:2150px;top:322px;width:2px;height:506px;background:#dddddd;"></div>
<div style="position:absolute;left:2202px;top:322px;width:2px;height:506px;background:#dddddd;"></div>
<div style="position:absolute;left:2254px;top:322px;width:2px;height:506px;background:#dddddd;"></div>
<div style="position:absolute;left:2306px;top:322px;width:2px;height:506px;background:#dddddd;"></div>
<div style="position:absolute;left:2358px;top:322px;width:2px;height:506px;background:#dddddd;"></div>
<div style="position:absolute;left:2410px;top:322px;width:2px;height:506px;background:#dddddd;"></div>
<div style="position:absolute;left:2462px;top:322px;width:2px;height:506px;background:#dddddd;"></div>
<div style="position:absolute;left:2514px;top:322px;width:2px;height:506px;background:#dddddd;"></div>
<div style="position:absolute;left:2566px;top:322px;width:2px;height:506px;background:#dddddd;"></div>
<div style="position:absolute;left:2618px;top:322px;width:2px;height:506px;background:#dddddd;"></div>
<div style="position:absolute;left:2670px;top:322px;width:2px;height:506px;background:#dddddd;"></div>
<div style="position:absolute;left:1232.5px;top:464px;width:122px;height:122px;border-radius:50%;border:2.2px solid #777;background:#fcfcfc;overflow:hidden"><div style="position:absolute;left:3.8px;top:0;width:4px;height:200px;background:#dcdcdc"></div><div style="position:absolute;left:107.8px;top:0;width:4px;height:200px;background:#dcdcdc"></div><div style="position:absolute;left:0;top:0;width:118px;height:118px;line-height:118px;text-align:center;font-size:41.5px;font-weight:normal;-webkit-text-stroke:0.9px #222;color:#222;">10'</div></div>
<div style="position:absolute;left:1352px;top:517px;width:7px;height:21px;background:#666666;border-radius:0 6px 6px 0;"></div>
<div style="position:absolute;left:2011px;top:464px;width:122px;height:122px;border-radius:50%;border:2.2px solid #777;background:#fcfcfc;overflow:hidden"><div style="position:absolute;left:6.8px;top:0;width:4px;height:200px;background:#dcdcdc"></div><div style="position:absolute;left:110.8px;top:0;width:4px;height:200px;background:#dcdcdc"></div><svg style="position:absolute;left:31.0px;top:27.5px" width="58" height="58" viewBox="0 0 28 28"><circle cx="14" cy="14" r="12.2" fill="none" stroke="#666666" stroke-width="3.4"/><circle cx="14" cy="14" r="4.9" fill="#666666"/></svg></div>
<div style="position:absolute;left:2220px;top:464px;width:122px;height:122px;border-radius:50%;border:2.2px solid #777;background:#fcfcfc;overflow:hidden"><div style="position:absolute;left:4.8px;top:0;width:4px;height:200px;background:#dcdcdc"></div><div style="position:absolute;left:108.8px;top:0;width:4px;height:200px;background:#dcdcdc"></div><svg style="position:absolute;left:31.0px;top:28.4px" width="56" height="57" viewBox="0 0 28 28"><path d="M14,0.6 L28,28 L0,28 Z" fill="#f44336"/><rect x="12.1" y="10.2" width="3.8" height="8.9" fill="#fff"/><rect x="12.1" y="21.2" width="3.8" height="2.8" fill="#fff"/></svg></div>
<svg style="position:absolute;left:0;top:0" width="2728" height="1644"><polygon points="1263.6,576.2 1213.6,600.2 1229.1,612.7 1197.0,645.7 1203.8,652.8 1237.6,619.2 1253.3,630.5" fill="#ff2600"/><polygon points="2034.8,589.0 1984.8,613.0 2000.3,625.5 1968.2,658.5 1975.0,665.6 2008.8,632.0 2024.5,643.3" fill="#ff2600"/><polygon points="2246.4,589.6 2196.4,613.6 2211.9,626.1 2179.8,659.1 2186.6,666.2 2220.4,632.6 2236.1,643.9" fill="#ff2600"/></svg>
<div style="position:absolute;left:760px;top:880px;width:1200px;text-align:center;font-size:37.5px;line-height:50px;color:#333;letter-spacing:1.2px;white-space:nowrap">Podsumowanie obecności 02/2020</div>
<div style="position:absolute;left:760px;top:938px;width:1200px;text-align:center;font-size:24.4px;line-height:30px;color:#666;letter-spacing:0.93px;white-space:nowrap">Kliknij w wykres aby wyświetlić przyczyny nieobecności</div>
<div style="position:absolute;left:1941px;top:900px;width:34px;height:6px;background:#666666;border-radius:3px;"></div>
<div style="position:absolute;left:1941px;top:910px;width:34px;height:6px;background:#666666;border-radius:3px;"></div>
<div style="position:absolute;left:1941px;top:920px;width:34px;height:6px;background:#666666;border-radius:3px;"></div>
<svg style="position:absolute;left:0;top:0" width="2728" height="1644"><path d="M1091.6,1279.5 L1091.6,1315.5 A268,190 0 0 0 1627.6,1315.5 L1627.6,1279.5 Z" fill="#4ca450"/><ellipse cx="1359.6" cy="1279.5" rx="268" ry="190" fill="#66bb6a"/><path d="M1359.6,1279.5 L1359.6,1089.5 A268,190 0 0 0 1188.77,1133.10 Z" fill="#ef5350"/></svg>
<div style="position:absolute;left:1162px;top:1604px;width:24px;height:24px;border-radius:50%;background:#66bb6a"></div>
<div style="position:absolute;left:1365px;top:1604px;width:24px;height:24px;border-radius:50%;background:#ef5350"></div>
<div style="position:absolute;left:1199px;top:1600px;font-size:25px;line-height:34px;font-weight:bold;color:#333;white-space:nowrap">Obecnych</div>
<div style="position:absolute;left:1402px;top:1600px;font-size:25px;line-height:34px;font-weight:bold;color:#333;white-space:nowrap">Nieobecnych</div>
<div style="position:absolute;left:60px;top:1622px;width:2124px;height:22px;background:linear-gradient(to bottom, rgba(0,0,0,0), rgba(0,0,0,0.015));-webkit-mask-image:linear-gradient(to right, transparent 0, #000 120px)"></div>
<div style="position:absolute;left:2184px;top:1616px;width:540px;height:28px;background:#263238;"></div>
<div style="position:absolute;left:2227px;top:1640px;width:26px;height:26px;border-radius:50%;border:2px solid #eee;background:#444"></div>
</body></html>
